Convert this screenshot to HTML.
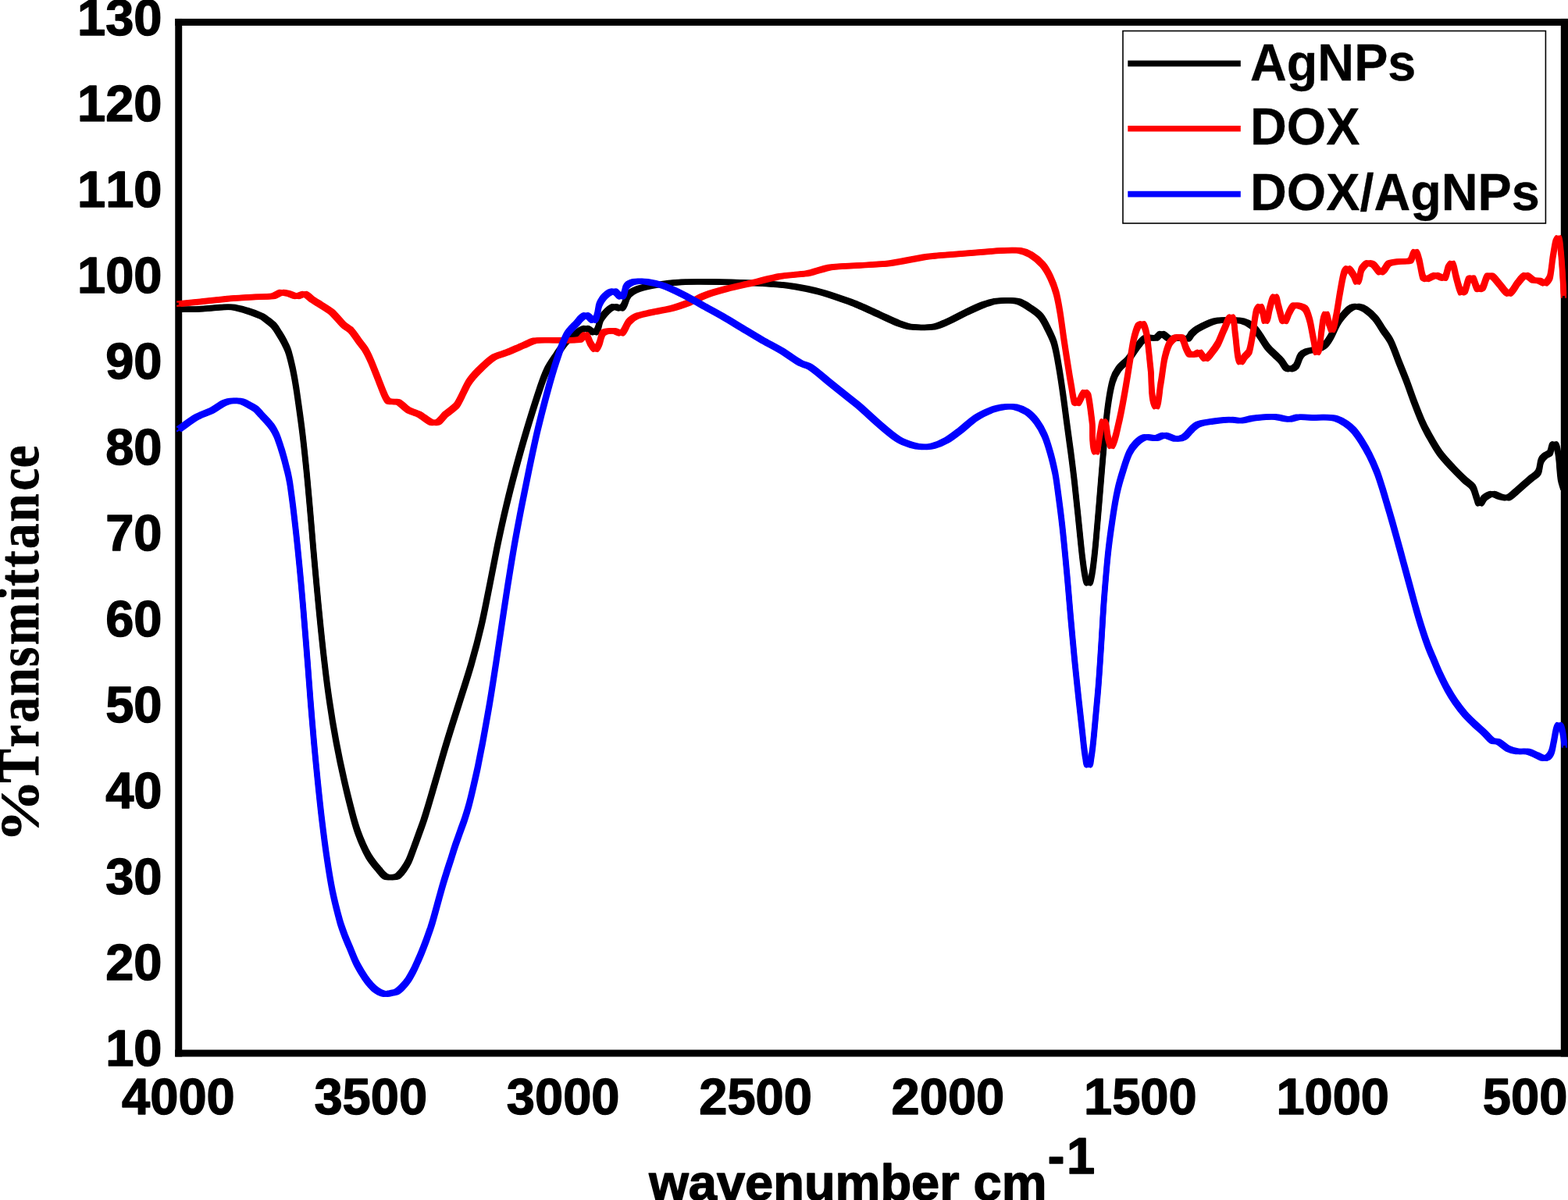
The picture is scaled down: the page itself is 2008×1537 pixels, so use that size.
<!DOCTYPE html>
<html lang="en">
<head>
<meta charset="utf-8">
<title>FTIR spectra: AgNPs, DOX, DOX/AgNPs</title>
<style>
html,body{margin:0;padding:0;background:#fff;}
body{width:2008px;height:1537px;overflow:hidden;}
svg{display:block;}
text{font-family:"Liberation Sans",Arial,Helvetica,sans-serif;font-weight:bold;fill:#000;stroke:#000;stroke-linejoin:round;font-kerning:none;}
.tick{font-size:65.0px;stroke-width:1.4px;}
.leg{font-size:64.8px;stroke-width:0.3px;}
.xt{font-size:65.0px;stroke-width:1.4px;}
.yt{font-family:"Liberation Serif","Times New Roman",Times,serif;font-size:65.0px;stroke-width:0.8px;}
.c{fill:none;stroke-linejoin:round;stroke-linecap:butt;}
</style>
</head>
<body>
<svg width="2008" height="1537" viewBox="0 0 2008 1537">
<rect x="0" y="0" width="2008" height="1537" fill="#fff"/>
<g fill="#000"><rect x="224.25" y="23.95" width="1783.75" height="8.95"/><rect x="224.25" y="1344.55" width="1783.75" height="8.95"/><rect x="224.25" y="23.95" width="8.95" height="1329.55"/><rect x="1998.8" y="23.95" width="11.2" height="1329.55"/></g>
<g class="tick" text-anchor="end">
<text x="207.5" y="44.56">130</text>
<text x="207.5" y="154.58">120</text>
<text x="207.5" y="264.60">110</text>
<text x="207.5" y="374.62">100</text>
<text x="207.5" y="484.64">90</text>
<text x="207.5" y="594.66">80</text>
<text x="207.5" y="704.68">70</text>
<text x="207.5" y="814.70">60</text>
<text x="207.5" y="924.72">50</text>
<text x="207.5" y="1034.74">40</text>
<text x="207.5" y="1144.76">30</text>
<text x="207.5" y="1254.78">20</text>
<text x="207.5" y="1364.80">10</text>
</g>
<g class="tick" text-anchor="middle">
<text x="228.40" y="1426.5">4000</text>
<text x="474.78" y="1426.5">3500</text>
<text x="721.16" y="1426.5">3000</text>
<text x="967.54" y="1426.5">2500</text>
<text x="1213.92" y="1426.5">2000</text>
<text x="1460.30" y="1426.5">1500</text>
<text x="1706.68" y="1426.5">1000</text>
<text x="1953.06" y="1426.5">500</text>
</g>
<text class="xt" x="831.2" y="1537.4">wavenumber cm</text>
<text class="xt" x="1341.8" y="1503.0">-<tspan dx="2.5">1</tspan></text>
<text class="yt" transform="translate(49.4,0) rotate(-90) scale(1,1.135)"><tspan x="-1078.9" font-size="62" textLength="80.6" lengthAdjust="spacingAndGlyphs">%</tspan><tspan x="-1002.4 -957.2 -925.6 -891.4 -854.0 -825.9 -768.9 -751.0 -726.9 -702.9 -668.5 -628.4 -599.2">Transmittance</tspan></text>
<g class="c" stroke="#000">
<path stroke-width="6.4" d="M228.8,396.2C238.3,396.1 247.9,396.2 257.5,395.8C270.0,395.2 282.5,392.9 295.0,393.2C301.8,393.5 308.5,395.6 315.0,397.5C321.8,399.5 328.5,402.1 335.0,405.0C337.1,405.9 338.9,407.5 340.7,408.9C344.2,411.6 347.9,414.1 350.9,417.4C353.6,420.4 355.5,424.1 357.7,427.5C359.8,430.8 361.8,434.2 363.6,437.7C365.3,441.0 367.1,444.3 368.4,447.8C369.8,451.4 370.7,455.1 371.7,458.8C372.8,463.0 373.7,467.3 374.7,471.5C375.6,475.7 376.4,480.0 377.2,484.2C378.1,489.5 379.0,494.7 379.8,500.0C382.2,516.7 384.6,533.3 386.7,550.0C388.8,566.6 390.5,583.3 392.2,600.0C393.9,616.7 395.3,633.3 396.8,650.0C398.3,666.7 399.6,683.3 401.0,700.0C402.5,716.7 403.9,733.3 405.5,750.0C407.0,766.7 408.6,783.3 410.3,800.0C412.0,816.7 413.7,833.4 415.7,850.0C417.6,866.7 419.7,883.4 422.2,900.0C424.6,916.7 427.4,933.4 430.5,950.0C433.6,966.7 437.1,983.4 440.9,1000.0C444.4,1015.7 448.4,1031.4 452.5,1047.0C454.3,1053.6 456.2,1060.1 458.5,1066.5C460.5,1072.2 462.8,1077.7 465.3,1083.2C467.3,1087.7 469.5,1092.2 472.0,1096.5C474.0,1099.9 476.4,1103.1 478.8,1106.2C481.0,1109.1 483.4,1111.8 485.8,1114.6C487.6,1116.8 489.3,1119.1 491.4,1121.0C492.6,1122.1 493.9,1123.1 495.5,1123.4C498.8,1124.0 502.2,1123.8 505.5,1123.4C507.1,1123.2 508.8,1122.7 510.0,1121.6C512.8,1119.2 515.1,1116.2 517.2,1113.2C519.5,1109.9 521.6,1106.4 523.4,1102.8C525.1,1099.4 526.3,1095.8 527.6,1092.3C529.3,1087.9 530.8,1083.4 532.5,1079.0C534.0,1074.8 535.5,1070.7 537.0,1066.5C538.6,1061.9 540.4,1057.3 542.0,1052.6C543.4,1048.4 544.8,1044.2 546.0,1040.0C550.1,1026.7 553.9,1013.3 557.8,1000.0C562.7,983.3 567.3,966.6 572.4,950.0C577.4,933.3 582.8,916.7 588.1,900.0C593.3,883.3 598.9,866.8 603.7,850.0C608.5,833.4 612.8,816.8 616.7,800.0C620.6,783.4 623.6,766.7 627.0,750.0C630.3,733.3 633.4,716.6 636.8,700.0C640.3,683.3 643.9,666.6 647.9,650.0C651.9,633.3 656.1,616.6 660.6,600.0C665.1,583.3 669.8,566.6 674.8,550.0C679.8,533.3 685.0,516.6 690.6,500.0C693.4,491.6 696.1,483.0 700.0,475.0C703.4,467.9 708.1,461.5 712.5,455.0C716.5,449.0 720.2,442.8 725.0,437.5C728.6,433.6 733.1,430.5 737.5,427.5C741.4,424.8 745.2,420.9 750.0,420.5C754.5,420.1 758.7,427.9 762.5,425.5C767.9,422.0 766.3,412.8 770.0,407.5C774.0,401.8 778.8,396.1 785.0,393.0C788.4,391.3 793.3,396.8 796.2,394.5C801.3,390.6 800.8,382.3 805.0,377.5C808.2,373.8 812.9,371.6 817.5,370.0C824.7,367.4 832.4,366.2 840.0,365.0C851.6,363.2 863.3,361.8 875.0,361.2C891.7,360.5 908.3,361.0 925.0,361.2C941.7,361.5 958.4,362.0 975.0,363.0C987.5,363.7 1000.1,364.5 1012.5,366.2C1025.1,368.1 1037.7,370.5 1050.0,373.8C1062.7,377.1 1075.1,381.9 1087.5,386.2C1091.7,387.7 1095.9,389.5 1100.0,391.2C1108.4,394.9 1116.7,398.8 1125.0,402.5C1133.3,406.2 1141.5,410.5 1150.0,413.8C1155.7,415.9 1161.5,418.1 1167.5,418.8C1176.6,419.8 1185.9,420.0 1195.0,418.8C1201.1,417.9 1206.8,415.0 1212.5,412.5C1221.0,408.7 1229.1,404.0 1237.5,400.0C1244.9,396.5 1252.3,392.9 1260.0,390.0C1264.9,388.2 1269.8,386.3 1275.0,385.8C1284.1,384.8 1293.5,383.9 1302.5,385.8C1309.0,387.1 1314.4,391.4 1320.0,395.0C1324.5,397.9 1329.1,400.9 1332.5,405.0C1336.8,410.2 1339.5,416.5 1342.5,422.5C1345.3,428.2 1348.3,433.9 1350.0,440.0C1352.8,449.8 1354.3,460.0 1356.0,470.0C1358.0,481.6 1359.7,493.3 1361.3,505.0C1363.1,517.5 1364.6,530.0 1366.3,542.5C1367.9,555.0 1369.7,567.5 1371.4,580.0C1373.0,592.5 1374.6,605.0 1376.0,617.5C1378.0,635.0 1379.7,652.5 1381.5,670.0C1383.1,685.0 1384.4,700.0 1386.2,715.0C1387.3,723.4 1388.1,731.8 1390.0,740.0C1390.6,742.6 1391.1,747.0 1393.8,747.0C1396.4,747.0 1396.9,742.6 1397.5,740.0C1399.4,731.8 1400.3,723.4 1401.2,715.0C1402.8,701.7 1403.8,688.3 1405.0,675.0C1406.7,655.8 1408.2,636.7 1409.8,617.5C1411.2,600.8 1412.5,584.2 1414.0,567.5C1415.4,551.7 1416.6,535.8 1418.8,520.0C1420.3,509.1 1421.9,498.1 1425.0,487.5C1426.6,482.1 1429.2,477.0 1432.5,472.5C1436.0,467.7 1441.2,464.5 1445.0,460.0C1449.6,454.5 1453.0,448.0 1457.5,442.5C1460.5,438.9 1463.2,434.3 1467.5,432.5C1471.3,430.9 1476.0,434.0 1480.0,433.0C1483.0,432.2 1484.4,427.4 1487.5,427.5C1491.4,427.7 1493.7,432.9 1497.5,433.8C1501.6,434.7 1505.8,432.5 1510.0,432.5C1513.7,432.5 1517.5,434.9 1521.0,433.8C1523.5,433.0 1524.1,429.4 1526.0,427.5C1528.3,425.2 1530.6,422.8 1533.5,421.2C1540.7,417.3 1548.1,413.5 1556.0,411.2C1561.6,409.7 1567.7,410.0 1573.5,410.0C1579.3,410.0 1585.3,409.8 1591.0,411.2C1595.5,412.4 1599.9,414.5 1603.5,417.5C1607.6,420.9 1610.4,425.7 1613.5,430.0C1617.0,434.9 1619.7,440.3 1623.5,445.0C1626.4,448.7 1630.2,451.7 1633.5,455.0C1636.0,457.5 1638.7,459.8 1641.0,462.5C1643.3,465.2 1644.5,469.0 1647.2,471.2C1648.9,472.6 1651.4,472.9 1653.5,472.5C1655.9,472.0 1658.3,470.7 1659.8,468.8C1662.7,464.7 1663.0,459.1 1666.0,455.0C1667.8,452.6 1670.7,451.1 1673.5,450.0C1677.5,448.5 1682.0,448.8 1686.0,447.5C1689.5,446.3 1693.2,444.9 1696.0,442.5C1699.2,439.8 1701.4,436.1 1703.5,432.5C1707.3,426.1 1709.6,418.8 1713.5,412.5C1716.3,408.0 1719.9,403.9 1723.5,400.0C1725.7,397.6 1728.1,395.2 1731.0,393.8C1733.3,392.6 1736.0,392.1 1738.5,392.5C1742.0,393.0 1745.5,394.3 1748.5,396.2C1753.2,399.4 1757.4,403.2 1761.0,407.5C1764.9,412.1 1767.7,417.5 1771.0,422.5C1774.3,427.5 1778.3,432.1 1781.0,437.5C1785.0,445.5 1787.7,454.2 1791.0,462.5C1794.3,470.8 1797.8,479.1 1801.0,487.5C1804.5,496.6 1807.5,505.9 1811.0,515.0C1814.2,523.4 1817.4,531.8 1821.0,540.0C1823.2,545.1 1825.8,550.1 1828.5,555.0C1833.3,563.5 1837.8,572.1 1843.5,580.0C1848.7,587.2 1855.0,593.5 1861.0,600.0C1865.8,605.2 1870.9,610.1 1876.0,615.0C1879.2,618.1 1883.5,620.1 1886.0,623.8C1888.7,627.8 1889.1,633.0 1891.0,637.5C1892.1,640.1 1892.0,645.0 1894.8,645.0C1898.0,645.0 1898.4,639.5 1901.0,637.5C1904.0,635.2 1907.3,632.7 1911.0,632.5C1914.6,632.3 1917.5,635.4 1921.0,636.2C1924.3,637.1 1927.8,638.5 1931.0,637.5C1935.0,636.3 1937.8,632.6 1941.0,630.0C1944.4,627.2 1947.7,624.2 1951.0,621.2C1954.3,618.3 1957.7,615.4 1961.0,612.5C1963.9,610.0 1967.9,608.4 1969.8,605.0C1972.3,600.5 1971.5,594.8 1973.5,590.0C1974.5,587.5 1976.5,585.5 1978.5,583.8C1980.3,582.1 1983.3,581.9 1984.8,580.0C1987.2,576.7 1985.8,569.7 1989.8,568.8C1993.0,567.9 1994.1,574.2 1994.8,577.5C1997.1,589.0 1996.7,600.9 1998.5,612.5C1999.2,616.8 2000.8,620.8 2002.0,625.0"/>
<path stroke-width="2.2" transform="translate(-2.6,-2.6)" d="M228.8,396.2C238.3,396.1 247.9,396.2 257.5,395.8C270.0,395.2 282.5,392.9 295.0,393.2C301.8,393.5 308.5,395.6 315.0,397.5C321.8,399.5 328.5,402.1 335.0,405.0C337.1,405.9 338.9,407.5 340.7,408.9C344.2,411.6 347.9,414.1 350.9,417.4C353.6,420.4 355.5,424.1 357.7,427.5C359.8,430.8 361.8,434.2 363.6,437.7C365.3,441.0 367.1,444.3 368.4,447.8C369.8,451.4 370.7,455.1 371.7,458.8C372.8,463.0 373.7,467.3 374.7,471.5C375.6,475.7 376.4,480.0 377.2,484.2C378.1,489.5 379.0,494.7 379.8,500.0C382.2,516.7 384.6,533.3 386.7,550.0C388.8,566.6 390.5,583.3 392.2,600.0C393.9,616.7 395.3,633.3 396.8,650.0C398.3,666.7 399.6,683.3 401.0,700.0C402.5,716.7 403.9,733.3 405.5,750.0C407.0,766.7 408.6,783.3 410.3,800.0C412.0,816.7 413.7,833.4 415.7,850.0C417.6,866.7 419.7,883.4 422.2,900.0C424.6,916.7 427.4,933.4 430.5,950.0C433.6,966.7 437.1,983.4 440.9,1000.0C444.4,1015.7 448.4,1031.4 452.5,1047.0C454.3,1053.6 456.2,1060.1 458.5,1066.5C460.5,1072.2 462.8,1077.7 465.3,1083.2C467.3,1087.7 469.5,1092.2 472.0,1096.5C474.0,1099.9 476.4,1103.1 478.8,1106.2C481.0,1109.1 483.4,1111.8 485.8,1114.6C487.6,1116.8 489.3,1119.1 491.4,1121.0C492.6,1122.1 493.9,1123.1 495.5,1123.4C498.8,1124.0 502.2,1123.8 505.5,1123.4C507.1,1123.2 508.8,1122.7 510.0,1121.6C512.8,1119.2 515.1,1116.2 517.2,1113.2C519.5,1109.9 521.6,1106.4 523.4,1102.8C525.1,1099.4 526.3,1095.8 527.6,1092.3C529.3,1087.9 530.8,1083.4 532.5,1079.0C534.0,1074.8 535.5,1070.7 537.0,1066.5C538.6,1061.9 540.4,1057.3 542.0,1052.6C543.4,1048.4 544.8,1044.2 546.0,1040.0C550.1,1026.7 553.9,1013.3 557.8,1000.0C562.7,983.3 567.3,966.6 572.4,950.0C577.4,933.3 582.8,916.7 588.1,900.0C593.3,883.3 598.9,866.8 603.7,850.0C608.5,833.4 612.8,816.8 616.7,800.0C620.6,783.4 623.6,766.7 627.0,750.0C630.3,733.3 633.4,716.6 636.8,700.0C640.3,683.3 643.9,666.6 647.9,650.0C651.9,633.3 656.1,616.6 660.6,600.0C665.1,583.3 669.8,566.6 674.8,550.0C679.8,533.3 685.0,516.6 690.6,500.0C693.4,491.6 696.1,483.0 700.0,475.0C703.4,467.9 708.1,461.5 712.5,455.0C716.5,449.0 720.2,442.8 725.0,437.5C728.6,433.6 733.1,430.5 737.5,427.5C741.4,424.8 745.2,420.9 750.0,420.5C754.5,420.1 758.7,427.9 762.5,425.5C767.9,422.0 766.3,412.8 770.0,407.5C774.0,401.8 778.8,396.1 785.0,393.0C788.4,391.3 793.3,396.8 796.2,394.5C801.3,390.6 800.8,382.3 805.0,377.5C808.2,373.8 812.9,371.6 817.5,370.0C824.7,367.4 832.4,366.2 840.0,365.0C851.6,363.2 863.3,361.8 875.0,361.2C891.7,360.5 908.3,361.0 925.0,361.2C941.7,361.5 958.4,362.0 975.0,363.0C987.5,363.7 1000.1,364.5 1012.5,366.2C1025.1,368.1 1037.7,370.5 1050.0,373.8C1062.7,377.1 1075.1,381.9 1087.5,386.2C1091.7,387.7 1095.9,389.5 1100.0,391.2C1108.4,394.9 1116.7,398.8 1125.0,402.5C1133.3,406.2 1141.5,410.5 1150.0,413.8C1155.7,415.9 1161.5,418.1 1167.5,418.8C1176.6,419.8 1185.9,420.0 1195.0,418.8C1201.1,417.9 1206.8,415.0 1212.5,412.5C1221.0,408.7 1229.1,404.0 1237.5,400.0C1244.9,396.5 1252.3,392.9 1260.0,390.0C1264.9,388.2 1269.8,386.3 1275.0,385.8C1284.1,384.8 1293.5,383.9 1302.5,385.8C1309.0,387.1 1314.4,391.4 1320.0,395.0C1324.5,397.9 1329.1,400.9 1332.5,405.0C1336.8,410.2 1339.5,416.5 1342.5,422.5C1345.3,428.2 1348.3,433.9 1350.0,440.0C1352.8,449.8 1354.3,460.0 1356.0,470.0C1358.0,481.6 1359.7,493.3 1361.3,505.0C1363.1,517.5 1364.6,530.0 1366.3,542.5C1367.9,555.0 1369.7,567.5 1371.4,580.0C1373.0,592.5 1374.6,605.0 1376.0,617.5C1378.0,635.0 1379.7,652.5 1381.5,670.0C1383.1,685.0 1384.4,700.0 1386.2,715.0C1387.3,723.4 1388.1,731.8 1390.0,740.0C1390.6,742.6 1391.1,747.0 1393.8,747.0C1396.4,747.0 1396.9,742.6 1397.5,740.0C1399.4,731.8 1400.3,723.4 1401.2,715.0C1402.8,701.7 1403.8,688.3 1405.0,675.0C1406.7,655.8 1408.2,636.7 1409.8,617.5C1411.2,600.8 1412.5,584.2 1414.0,567.5C1415.4,551.7 1416.6,535.8 1418.8,520.0C1420.3,509.1 1421.9,498.1 1425.0,487.5C1426.6,482.1 1429.2,477.0 1432.5,472.5C1436.0,467.7 1441.2,464.5 1445.0,460.0C1449.6,454.5 1453.0,448.0 1457.5,442.5C1460.5,438.9 1463.2,434.3 1467.5,432.5C1471.3,430.9 1476.0,434.0 1480.0,433.0C1483.0,432.2 1484.4,427.4 1487.5,427.5C1491.4,427.7 1493.7,432.9 1497.5,433.8C1501.6,434.7 1505.8,432.5 1510.0,432.5C1513.7,432.5 1517.5,434.9 1521.0,433.8C1523.5,433.0 1524.1,429.4 1526.0,427.5C1528.3,425.2 1530.6,422.8 1533.5,421.2C1540.7,417.3 1548.1,413.5 1556.0,411.2C1561.6,409.7 1567.7,410.0 1573.5,410.0C1579.3,410.0 1585.3,409.8 1591.0,411.2C1595.5,412.4 1599.9,414.5 1603.5,417.5C1607.6,420.9 1610.4,425.7 1613.5,430.0C1617.0,434.9 1619.7,440.3 1623.5,445.0C1626.4,448.7 1630.2,451.7 1633.5,455.0C1636.0,457.5 1638.7,459.8 1641.0,462.5C1643.3,465.2 1644.5,469.0 1647.2,471.2C1648.9,472.6 1651.4,472.9 1653.5,472.5C1655.9,472.0 1658.3,470.7 1659.8,468.8C1662.7,464.7 1663.0,459.1 1666.0,455.0C1667.8,452.6 1670.7,451.1 1673.5,450.0C1677.5,448.5 1682.0,448.8 1686.0,447.5C1689.5,446.3 1693.2,444.9 1696.0,442.5C1699.2,439.8 1701.4,436.1 1703.5,432.5C1707.3,426.1 1709.6,418.8 1713.5,412.5C1716.3,408.0 1719.9,403.9 1723.5,400.0C1725.7,397.6 1728.1,395.2 1731.0,393.8C1733.3,392.6 1736.0,392.1 1738.5,392.5C1742.0,393.0 1745.5,394.3 1748.5,396.2C1753.2,399.4 1757.4,403.2 1761.0,407.5C1764.9,412.1 1767.7,417.5 1771.0,422.5C1774.3,427.5 1778.3,432.1 1781.0,437.5C1785.0,445.5 1787.7,454.2 1791.0,462.5C1794.3,470.8 1797.8,479.1 1801.0,487.5C1804.5,496.6 1807.5,505.9 1811.0,515.0C1814.2,523.4 1817.4,531.8 1821.0,540.0C1823.2,545.1 1825.8,550.1 1828.5,555.0C1833.3,563.5 1837.8,572.1 1843.5,580.0C1848.7,587.2 1855.0,593.5 1861.0,600.0C1865.8,605.2 1870.9,610.1 1876.0,615.0C1879.2,618.1 1883.5,620.1 1886.0,623.8C1888.7,627.8 1889.1,633.0 1891.0,637.5C1892.1,640.1 1892.0,645.0 1894.8,645.0C1898.0,645.0 1898.4,639.5 1901.0,637.5C1904.0,635.2 1907.3,632.7 1911.0,632.5C1914.6,632.3 1917.5,635.4 1921.0,636.2C1924.3,637.1 1927.8,638.5 1931.0,637.5C1935.0,636.3 1937.8,632.6 1941.0,630.0C1944.4,627.2 1947.7,624.2 1951.0,621.2C1954.3,618.3 1957.7,615.4 1961.0,612.5C1963.9,610.0 1967.9,608.4 1969.8,605.0C1972.3,600.5 1971.5,594.8 1973.5,590.0C1974.5,587.5 1976.5,585.5 1978.5,583.8C1980.3,582.1 1983.3,581.9 1984.8,580.0C1987.2,576.7 1985.8,569.7 1989.8,568.8C1993.0,567.9 1994.1,574.2 1994.8,577.5C1997.1,589.0 1996.7,600.9 1998.5,612.5C1999.2,616.8 2000.8,620.8 2002.0,625.0"/>
<path stroke-width="2.2" transform="translate(2.6,-2.6)" d="M228.8,396.2C238.3,396.1 247.9,396.2 257.5,395.8C270.0,395.2 282.5,392.9 295.0,393.2C301.8,393.5 308.5,395.6 315.0,397.5C321.8,399.5 328.5,402.1 335.0,405.0C337.1,405.9 338.9,407.5 340.7,408.9C344.2,411.6 347.9,414.1 350.9,417.4C353.6,420.4 355.5,424.1 357.7,427.5C359.8,430.8 361.8,434.2 363.6,437.7C365.3,441.0 367.1,444.3 368.4,447.8C369.8,451.4 370.7,455.1 371.7,458.8C372.8,463.0 373.7,467.3 374.7,471.5C375.6,475.7 376.4,480.0 377.2,484.2C378.1,489.5 379.0,494.7 379.8,500.0C382.2,516.7 384.6,533.3 386.7,550.0C388.8,566.6 390.5,583.3 392.2,600.0C393.9,616.7 395.3,633.3 396.8,650.0C398.3,666.7 399.6,683.3 401.0,700.0C402.5,716.7 403.9,733.3 405.5,750.0C407.0,766.7 408.6,783.3 410.3,800.0C412.0,816.7 413.7,833.4 415.7,850.0C417.6,866.7 419.7,883.4 422.2,900.0C424.6,916.7 427.4,933.4 430.5,950.0C433.6,966.7 437.1,983.4 440.9,1000.0C444.4,1015.7 448.4,1031.4 452.5,1047.0C454.3,1053.6 456.2,1060.1 458.5,1066.5C460.5,1072.2 462.8,1077.7 465.3,1083.2C467.3,1087.7 469.5,1092.2 472.0,1096.5C474.0,1099.9 476.4,1103.1 478.8,1106.2C481.0,1109.1 483.4,1111.8 485.8,1114.6C487.6,1116.8 489.3,1119.1 491.4,1121.0C492.6,1122.1 493.9,1123.1 495.5,1123.4C498.8,1124.0 502.2,1123.8 505.5,1123.4C507.1,1123.2 508.8,1122.7 510.0,1121.6C512.8,1119.2 515.1,1116.2 517.2,1113.2C519.5,1109.9 521.6,1106.4 523.4,1102.8C525.1,1099.4 526.3,1095.8 527.6,1092.3C529.3,1087.9 530.8,1083.4 532.5,1079.0C534.0,1074.8 535.5,1070.7 537.0,1066.5C538.6,1061.9 540.4,1057.3 542.0,1052.6C543.4,1048.4 544.8,1044.2 546.0,1040.0C550.1,1026.7 553.9,1013.3 557.8,1000.0C562.7,983.3 567.3,966.6 572.4,950.0C577.4,933.3 582.8,916.7 588.1,900.0C593.3,883.3 598.9,866.8 603.7,850.0C608.5,833.4 612.8,816.8 616.7,800.0C620.6,783.4 623.6,766.7 627.0,750.0C630.3,733.3 633.4,716.6 636.8,700.0C640.3,683.3 643.9,666.6 647.9,650.0C651.9,633.3 656.1,616.6 660.6,600.0C665.1,583.3 669.8,566.6 674.8,550.0C679.8,533.3 685.0,516.6 690.6,500.0C693.4,491.6 696.1,483.0 700.0,475.0C703.4,467.9 708.1,461.5 712.5,455.0C716.5,449.0 720.2,442.8 725.0,437.5C728.6,433.6 733.1,430.5 737.5,427.5C741.4,424.8 745.2,420.9 750.0,420.5C754.5,420.1 758.7,427.9 762.5,425.5C767.9,422.0 766.3,412.8 770.0,407.5C774.0,401.8 778.8,396.1 785.0,393.0C788.4,391.3 793.3,396.8 796.2,394.5C801.3,390.6 800.8,382.3 805.0,377.5C808.2,373.8 812.9,371.6 817.5,370.0C824.7,367.4 832.4,366.2 840.0,365.0C851.6,363.2 863.3,361.8 875.0,361.2C891.7,360.5 908.3,361.0 925.0,361.2C941.7,361.5 958.4,362.0 975.0,363.0C987.5,363.7 1000.1,364.5 1012.5,366.2C1025.1,368.1 1037.7,370.5 1050.0,373.8C1062.7,377.1 1075.1,381.9 1087.5,386.2C1091.7,387.7 1095.9,389.5 1100.0,391.2C1108.4,394.9 1116.7,398.8 1125.0,402.5C1133.3,406.2 1141.5,410.5 1150.0,413.8C1155.7,415.9 1161.5,418.1 1167.5,418.8C1176.6,419.8 1185.9,420.0 1195.0,418.8C1201.1,417.9 1206.8,415.0 1212.5,412.5C1221.0,408.7 1229.1,404.0 1237.5,400.0C1244.9,396.5 1252.3,392.9 1260.0,390.0C1264.9,388.2 1269.8,386.3 1275.0,385.8C1284.1,384.8 1293.5,383.9 1302.5,385.8C1309.0,387.1 1314.4,391.4 1320.0,395.0C1324.5,397.9 1329.1,400.9 1332.5,405.0C1336.8,410.2 1339.5,416.5 1342.5,422.5C1345.3,428.2 1348.3,433.9 1350.0,440.0C1352.8,449.8 1354.3,460.0 1356.0,470.0C1358.0,481.6 1359.7,493.3 1361.3,505.0C1363.1,517.5 1364.6,530.0 1366.3,542.5C1367.9,555.0 1369.7,567.5 1371.4,580.0C1373.0,592.5 1374.6,605.0 1376.0,617.5C1378.0,635.0 1379.7,652.5 1381.5,670.0C1383.1,685.0 1384.4,700.0 1386.2,715.0C1387.3,723.4 1388.1,731.8 1390.0,740.0C1390.6,742.6 1391.1,747.0 1393.8,747.0C1396.4,747.0 1396.9,742.6 1397.5,740.0C1399.4,731.8 1400.3,723.4 1401.2,715.0C1402.8,701.7 1403.8,688.3 1405.0,675.0C1406.7,655.8 1408.2,636.7 1409.8,617.5C1411.2,600.8 1412.5,584.2 1414.0,567.5C1415.4,551.7 1416.6,535.8 1418.8,520.0C1420.3,509.1 1421.9,498.1 1425.0,487.5C1426.6,482.1 1429.2,477.0 1432.5,472.5C1436.0,467.7 1441.2,464.5 1445.0,460.0C1449.6,454.5 1453.0,448.0 1457.5,442.5C1460.5,438.9 1463.2,434.3 1467.5,432.5C1471.3,430.9 1476.0,434.0 1480.0,433.0C1483.0,432.2 1484.4,427.4 1487.5,427.5C1491.4,427.7 1493.7,432.9 1497.5,433.8C1501.6,434.7 1505.8,432.5 1510.0,432.5C1513.7,432.5 1517.5,434.9 1521.0,433.8C1523.5,433.0 1524.1,429.4 1526.0,427.5C1528.3,425.2 1530.6,422.8 1533.5,421.2C1540.7,417.3 1548.1,413.5 1556.0,411.2C1561.6,409.7 1567.7,410.0 1573.5,410.0C1579.3,410.0 1585.3,409.8 1591.0,411.2C1595.5,412.4 1599.9,414.5 1603.5,417.5C1607.6,420.9 1610.4,425.7 1613.5,430.0C1617.0,434.9 1619.7,440.3 1623.5,445.0C1626.4,448.7 1630.2,451.7 1633.5,455.0C1636.0,457.5 1638.7,459.8 1641.0,462.5C1643.3,465.2 1644.5,469.0 1647.2,471.2C1648.9,472.6 1651.4,472.9 1653.5,472.5C1655.9,472.0 1658.3,470.7 1659.8,468.8C1662.7,464.7 1663.0,459.1 1666.0,455.0C1667.8,452.6 1670.7,451.1 1673.5,450.0C1677.5,448.5 1682.0,448.8 1686.0,447.5C1689.5,446.3 1693.2,444.9 1696.0,442.5C1699.2,439.8 1701.4,436.1 1703.5,432.5C1707.3,426.1 1709.6,418.8 1713.5,412.5C1716.3,408.0 1719.9,403.9 1723.5,400.0C1725.7,397.6 1728.1,395.2 1731.0,393.8C1733.3,392.6 1736.0,392.1 1738.5,392.5C1742.0,393.0 1745.5,394.3 1748.5,396.2C1753.2,399.4 1757.4,403.2 1761.0,407.5C1764.9,412.1 1767.7,417.5 1771.0,422.5C1774.3,427.5 1778.3,432.1 1781.0,437.5C1785.0,445.5 1787.7,454.2 1791.0,462.5C1794.3,470.8 1797.8,479.1 1801.0,487.5C1804.5,496.6 1807.5,505.9 1811.0,515.0C1814.2,523.4 1817.4,531.8 1821.0,540.0C1823.2,545.1 1825.8,550.1 1828.5,555.0C1833.3,563.5 1837.8,572.1 1843.5,580.0C1848.7,587.2 1855.0,593.5 1861.0,600.0C1865.8,605.2 1870.9,610.1 1876.0,615.0C1879.2,618.1 1883.5,620.1 1886.0,623.8C1888.7,627.8 1889.1,633.0 1891.0,637.5C1892.1,640.1 1892.0,645.0 1894.8,645.0C1898.0,645.0 1898.4,639.5 1901.0,637.5C1904.0,635.2 1907.3,632.7 1911.0,632.5C1914.6,632.3 1917.5,635.4 1921.0,636.2C1924.3,637.1 1927.8,638.5 1931.0,637.5C1935.0,636.3 1937.8,632.6 1941.0,630.0C1944.4,627.2 1947.7,624.2 1951.0,621.2C1954.3,618.3 1957.7,615.4 1961.0,612.5C1963.9,610.0 1967.9,608.4 1969.8,605.0C1972.3,600.5 1971.5,594.8 1973.5,590.0C1974.5,587.5 1976.5,585.5 1978.5,583.8C1980.3,582.1 1983.3,581.9 1984.8,580.0C1987.2,576.7 1985.8,569.7 1989.8,568.8C1993.0,567.9 1994.1,574.2 1994.8,577.5C1997.1,589.0 1996.7,600.9 1998.5,612.5C1999.2,616.8 2000.8,620.8 2002.0,625.0"/>
<path stroke-width="2.2" transform="translate(-2.6,2.6)" d="M228.8,396.2C238.3,396.1 247.9,396.2 257.5,395.8C270.0,395.2 282.5,392.9 295.0,393.2C301.8,393.5 308.5,395.6 315.0,397.5C321.8,399.5 328.5,402.1 335.0,405.0C337.1,405.9 338.9,407.5 340.7,408.9C344.2,411.6 347.9,414.1 350.9,417.4C353.6,420.4 355.5,424.1 357.7,427.5C359.8,430.8 361.8,434.2 363.6,437.7C365.3,441.0 367.1,444.3 368.4,447.8C369.8,451.4 370.7,455.1 371.7,458.8C372.8,463.0 373.7,467.3 374.7,471.5C375.6,475.7 376.4,480.0 377.2,484.2C378.1,489.5 379.0,494.7 379.8,500.0C382.2,516.7 384.6,533.3 386.7,550.0C388.8,566.6 390.5,583.3 392.2,600.0C393.9,616.7 395.3,633.3 396.8,650.0C398.3,666.7 399.6,683.3 401.0,700.0C402.5,716.7 403.9,733.3 405.5,750.0C407.0,766.7 408.6,783.3 410.3,800.0C412.0,816.7 413.7,833.4 415.7,850.0C417.6,866.7 419.7,883.4 422.2,900.0C424.6,916.7 427.4,933.4 430.5,950.0C433.6,966.7 437.1,983.4 440.9,1000.0C444.4,1015.7 448.4,1031.4 452.5,1047.0C454.3,1053.6 456.2,1060.1 458.5,1066.5C460.5,1072.2 462.8,1077.7 465.3,1083.2C467.3,1087.7 469.5,1092.2 472.0,1096.5C474.0,1099.9 476.4,1103.1 478.8,1106.2C481.0,1109.1 483.4,1111.8 485.8,1114.6C487.6,1116.8 489.3,1119.1 491.4,1121.0C492.6,1122.1 493.9,1123.1 495.5,1123.4C498.8,1124.0 502.2,1123.8 505.5,1123.4C507.1,1123.2 508.8,1122.7 510.0,1121.6C512.8,1119.2 515.1,1116.2 517.2,1113.2C519.5,1109.9 521.6,1106.4 523.4,1102.8C525.1,1099.4 526.3,1095.8 527.6,1092.3C529.3,1087.9 530.8,1083.4 532.5,1079.0C534.0,1074.8 535.5,1070.7 537.0,1066.5C538.6,1061.9 540.4,1057.3 542.0,1052.6C543.4,1048.4 544.8,1044.2 546.0,1040.0C550.1,1026.7 553.9,1013.3 557.8,1000.0C562.7,983.3 567.3,966.6 572.4,950.0C577.4,933.3 582.8,916.7 588.1,900.0C593.3,883.3 598.9,866.8 603.7,850.0C608.5,833.4 612.8,816.8 616.7,800.0C620.6,783.4 623.6,766.7 627.0,750.0C630.3,733.3 633.4,716.6 636.8,700.0C640.3,683.3 643.9,666.6 647.9,650.0C651.9,633.3 656.1,616.6 660.6,600.0C665.1,583.3 669.8,566.6 674.8,550.0C679.8,533.3 685.0,516.6 690.6,500.0C693.4,491.6 696.1,483.0 700.0,475.0C703.4,467.9 708.1,461.5 712.5,455.0C716.5,449.0 720.2,442.8 725.0,437.5C728.6,433.6 733.1,430.5 737.5,427.5C741.4,424.8 745.2,420.9 750.0,420.5C754.5,420.1 758.7,427.9 762.5,425.5C767.9,422.0 766.3,412.8 770.0,407.5C774.0,401.8 778.8,396.1 785.0,393.0C788.4,391.3 793.3,396.8 796.2,394.5C801.3,390.6 800.8,382.3 805.0,377.5C808.2,373.8 812.9,371.6 817.5,370.0C824.7,367.4 832.4,366.2 840.0,365.0C851.6,363.2 863.3,361.8 875.0,361.2C891.7,360.5 908.3,361.0 925.0,361.2C941.7,361.5 958.4,362.0 975.0,363.0C987.5,363.7 1000.1,364.5 1012.5,366.2C1025.1,368.1 1037.7,370.5 1050.0,373.8C1062.7,377.1 1075.1,381.9 1087.5,386.2C1091.7,387.7 1095.9,389.5 1100.0,391.2C1108.4,394.9 1116.7,398.8 1125.0,402.5C1133.3,406.2 1141.5,410.5 1150.0,413.8C1155.7,415.9 1161.5,418.1 1167.5,418.8C1176.6,419.8 1185.9,420.0 1195.0,418.8C1201.1,417.9 1206.8,415.0 1212.5,412.5C1221.0,408.7 1229.1,404.0 1237.5,400.0C1244.9,396.5 1252.3,392.9 1260.0,390.0C1264.9,388.2 1269.8,386.3 1275.0,385.8C1284.1,384.8 1293.5,383.9 1302.5,385.8C1309.0,387.1 1314.4,391.4 1320.0,395.0C1324.5,397.9 1329.1,400.9 1332.5,405.0C1336.8,410.2 1339.5,416.5 1342.5,422.5C1345.3,428.2 1348.3,433.9 1350.0,440.0C1352.8,449.8 1354.3,460.0 1356.0,470.0C1358.0,481.6 1359.7,493.3 1361.3,505.0C1363.1,517.5 1364.6,530.0 1366.3,542.5C1367.9,555.0 1369.7,567.5 1371.4,580.0C1373.0,592.5 1374.6,605.0 1376.0,617.5C1378.0,635.0 1379.7,652.5 1381.5,670.0C1383.1,685.0 1384.4,700.0 1386.2,715.0C1387.3,723.4 1388.1,731.8 1390.0,740.0C1390.6,742.6 1391.1,747.0 1393.8,747.0C1396.4,747.0 1396.9,742.6 1397.5,740.0C1399.4,731.8 1400.3,723.4 1401.2,715.0C1402.8,701.7 1403.8,688.3 1405.0,675.0C1406.7,655.8 1408.2,636.7 1409.8,617.5C1411.2,600.8 1412.5,584.2 1414.0,567.5C1415.4,551.7 1416.6,535.8 1418.8,520.0C1420.3,509.1 1421.9,498.1 1425.0,487.5C1426.6,482.1 1429.2,477.0 1432.5,472.5C1436.0,467.7 1441.2,464.5 1445.0,460.0C1449.6,454.5 1453.0,448.0 1457.5,442.5C1460.5,438.9 1463.2,434.3 1467.5,432.5C1471.3,430.9 1476.0,434.0 1480.0,433.0C1483.0,432.2 1484.4,427.4 1487.5,427.5C1491.4,427.7 1493.7,432.9 1497.5,433.8C1501.6,434.7 1505.8,432.5 1510.0,432.5C1513.7,432.5 1517.5,434.9 1521.0,433.8C1523.5,433.0 1524.1,429.4 1526.0,427.5C1528.3,425.2 1530.6,422.8 1533.5,421.2C1540.7,417.3 1548.1,413.5 1556.0,411.2C1561.6,409.7 1567.7,410.0 1573.5,410.0C1579.3,410.0 1585.3,409.8 1591.0,411.2C1595.5,412.4 1599.9,414.5 1603.5,417.5C1607.6,420.9 1610.4,425.7 1613.5,430.0C1617.0,434.9 1619.7,440.3 1623.5,445.0C1626.4,448.7 1630.2,451.7 1633.5,455.0C1636.0,457.5 1638.7,459.8 1641.0,462.5C1643.3,465.2 1644.5,469.0 1647.2,471.2C1648.9,472.6 1651.4,472.9 1653.5,472.5C1655.9,472.0 1658.3,470.7 1659.8,468.8C1662.7,464.7 1663.0,459.1 1666.0,455.0C1667.8,452.6 1670.7,451.1 1673.5,450.0C1677.5,448.5 1682.0,448.8 1686.0,447.5C1689.5,446.3 1693.2,444.9 1696.0,442.5C1699.2,439.8 1701.4,436.1 1703.5,432.5C1707.3,426.1 1709.6,418.8 1713.5,412.5C1716.3,408.0 1719.9,403.9 1723.5,400.0C1725.7,397.6 1728.1,395.2 1731.0,393.8C1733.3,392.6 1736.0,392.1 1738.5,392.5C1742.0,393.0 1745.5,394.3 1748.5,396.2C1753.2,399.4 1757.4,403.2 1761.0,407.5C1764.9,412.1 1767.7,417.5 1771.0,422.5C1774.3,427.5 1778.3,432.1 1781.0,437.5C1785.0,445.5 1787.7,454.2 1791.0,462.5C1794.3,470.8 1797.8,479.1 1801.0,487.5C1804.5,496.6 1807.5,505.9 1811.0,515.0C1814.2,523.4 1817.4,531.8 1821.0,540.0C1823.2,545.1 1825.8,550.1 1828.5,555.0C1833.3,563.5 1837.8,572.1 1843.5,580.0C1848.7,587.2 1855.0,593.5 1861.0,600.0C1865.8,605.2 1870.9,610.1 1876.0,615.0C1879.2,618.1 1883.5,620.1 1886.0,623.8C1888.7,627.8 1889.1,633.0 1891.0,637.5C1892.1,640.1 1892.0,645.0 1894.8,645.0C1898.0,645.0 1898.4,639.5 1901.0,637.5C1904.0,635.2 1907.3,632.7 1911.0,632.5C1914.6,632.3 1917.5,635.4 1921.0,636.2C1924.3,637.1 1927.8,638.5 1931.0,637.5C1935.0,636.3 1937.8,632.6 1941.0,630.0C1944.4,627.2 1947.7,624.2 1951.0,621.2C1954.3,618.3 1957.7,615.4 1961.0,612.5C1963.9,610.0 1967.9,608.4 1969.8,605.0C1972.3,600.5 1971.5,594.8 1973.5,590.0C1974.5,587.5 1976.5,585.5 1978.5,583.8C1980.3,582.1 1983.3,581.9 1984.8,580.0C1987.2,576.7 1985.8,569.7 1989.8,568.8C1993.0,567.9 1994.1,574.2 1994.8,577.5C1997.1,589.0 1996.7,600.9 1998.5,612.5C1999.2,616.8 2000.8,620.8 2002.0,625.0"/>
<path stroke-width="2.2" transform="translate(2.6,2.6)" d="M228.8,396.2C238.3,396.1 247.9,396.2 257.5,395.8C270.0,395.2 282.5,392.9 295.0,393.2C301.8,393.5 308.5,395.6 315.0,397.5C321.8,399.5 328.5,402.1 335.0,405.0C337.1,405.9 338.9,407.5 340.7,408.9C344.2,411.6 347.9,414.1 350.9,417.4C353.6,420.4 355.5,424.1 357.7,427.5C359.8,430.8 361.8,434.2 363.6,437.7C365.3,441.0 367.1,444.3 368.4,447.8C369.8,451.4 370.7,455.1 371.7,458.8C372.8,463.0 373.7,467.3 374.7,471.5C375.6,475.7 376.4,480.0 377.2,484.2C378.1,489.5 379.0,494.7 379.8,500.0C382.2,516.7 384.6,533.3 386.7,550.0C388.8,566.6 390.5,583.3 392.2,600.0C393.9,616.7 395.3,633.3 396.8,650.0C398.3,666.7 399.6,683.3 401.0,700.0C402.5,716.7 403.9,733.3 405.5,750.0C407.0,766.7 408.6,783.3 410.3,800.0C412.0,816.7 413.7,833.4 415.7,850.0C417.6,866.7 419.7,883.4 422.2,900.0C424.6,916.7 427.4,933.4 430.5,950.0C433.6,966.7 437.1,983.4 440.9,1000.0C444.4,1015.7 448.4,1031.4 452.5,1047.0C454.3,1053.6 456.2,1060.1 458.5,1066.5C460.5,1072.2 462.8,1077.7 465.3,1083.2C467.3,1087.7 469.5,1092.2 472.0,1096.5C474.0,1099.9 476.4,1103.1 478.8,1106.2C481.0,1109.1 483.4,1111.8 485.8,1114.6C487.6,1116.8 489.3,1119.1 491.4,1121.0C492.6,1122.1 493.9,1123.1 495.5,1123.4C498.8,1124.0 502.2,1123.8 505.5,1123.4C507.1,1123.2 508.8,1122.7 510.0,1121.6C512.8,1119.2 515.1,1116.2 517.2,1113.2C519.5,1109.9 521.6,1106.4 523.4,1102.8C525.1,1099.4 526.3,1095.8 527.6,1092.3C529.3,1087.9 530.8,1083.4 532.5,1079.0C534.0,1074.8 535.5,1070.7 537.0,1066.5C538.6,1061.9 540.4,1057.3 542.0,1052.6C543.4,1048.4 544.8,1044.2 546.0,1040.0C550.1,1026.7 553.9,1013.3 557.8,1000.0C562.7,983.3 567.3,966.6 572.4,950.0C577.4,933.3 582.8,916.7 588.1,900.0C593.3,883.3 598.9,866.8 603.7,850.0C608.5,833.4 612.8,816.8 616.7,800.0C620.6,783.4 623.6,766.7 627.0,750.0C630.3,733.3 633.4,716.6 636.8,700.0C640.3,683.3 643.9,666.6 647.9,650.0C651.9,633.3 656.1,616.6 660.6,600.0C665.1,583.3 669.8,566.6 674.8,550.0C679.8,533.3 685.0,516.6 690.6,500.0C693.4,491.6 696.1,483.0 700.0,475.0C703.4,467.9 708.1,461.5 712.5,455.0C716.5,449.0 720.2,442.8 725.0,437.5C728.6,433.6 733.1,430.5 737.5,427.5C741.4,424.8 745.2,420.9 750.0,420.5C754.5,420.1 758.7,427.9 762.5,425.5C767.9,422.0 766.3,412.8 770.0,407.5C774.0,401.8 778.8,396.1 785.0,393.0C788.4,391.3 793.3,396.8 796.2,394.5C801.3,390.6 800.8,382.3 805.0,377.5C808.2,373.8 812.9,371.6 817.5,370.0C824.7,367.4 832.4,366.2 840.0,365.0C851.6,363.2 863.3,361.8 875.0,361.2C891.7,360.5 908.3,361.0 925.0,361.2C941.7,361.5 958.4,362.0 975.0,363.0C987.5,363.7 1000.1,364.5 1012.5,366.2C1025.1,368.1 1037.7,370.5 1050.0,373.8C1062.7,377.1 1075.1,381.9 1087.5,386.2C1091.7,387.7 1095.9,389.5 1100.0,391.2C1108.4,394.9 1116.7,398.8 1125.0,402.5C1133.3,406.2 1141.5,410.5 1150.0,413.8C1155.7,415.9 1161.5,418.1 1167.5,418.8C1176.6,419.8 1185.9,420.0 1195.0,418.8C1201.1,417.9 1206.8,415.0 1212.5,412.5C1221.0,408.7 1229.1,404.0 1237.5,400.0C1244.9,396.5 1252.3,392.9 1260.0,390.0C1264.9,388.2 1269.8,386.3 1275.0,385.8C1284.1,384.8 1293.5,383.9 1302.5,385.8C1309.0,387.1 1314.4,391.4 1320.0,395.0C1324.5,397.9 1329.1,400.9 1332.5,405.0C1336.8,410.2 1339.5,416.5 1342.5,422.5C1345.3,428.2 1348.3,433.9 1350.0,440.0C1352.8,449.8 1354.3,460.0 1356.0,470.0C1358.0,481.6 1359.7,493.3 1361.3,505.0C1363.1,517.5 1364.6,530.0 1366.3,542.5C1367.9,555.0 1369.7,567.5 1371.4,580.0C1373.0,592.5 1374.6,605.0 1376.0,617.5C1378.0,635.0 1379.7,652.5 1381.5,670.0C1383.1,685.0 1384.4,700.0 1386.2,715.0C1387.3,723.4 1388.1,731.8 1390.0,740.0C1390.6,742.6 1391.1,747.0 1393.8,747.0C1396.4,747.0 1396.9,742.6 1397.5,740.0C1399.4,731.8 1400.3,723.4 1401.2,715.0C1402.8,701.7 1403.8,688.3 1405.0,675.0C1406.7,655.8 1408.2,636.7 1409.8,617.5C1411.2,600.8 1412.5,584.2 1414.0,567.5C1415.4,551.7 1416.6,535.8 1418.8,520.0C1420.3,509.1 1421.9,498.1 1425.0,487.5C1426.6,482.1 1429.2,477.0 1432.5,472.5C1436.0,467.7 1441.2,464.5 1445.0,460.0C1449.6,454.5 1453.0,448.0 1457.5,442.5C1460.5,438.9 1463.2,434.3 1467.5,432.5C1471.3,430.9 1476.0,434.0 1480.0,433.0C1483.0,432.2 1484.4,427.4 1487.5,427.5C1491.4,427.7 1493.7,432.9 1497.5,433.8C1501.6,434.7 1505.8,432.5 1510.0,432.5C1513.7,432.5 1517.5,434.9 1521.0,433.8C1523.5,433.0 1524.1,429.4 1526.0,427.5C1528.3,425.2 1530.6,422.8 1533.5,421.2C1540.7,417.3 1548.1,413.5 1556.0,411.2C1561.6,409.7 1567.7,410.0 1573.5,410.0C1579.3,410.0 1585.3,409.8 1591.0,411.2C1595.5,412.4 1599.9,414.5 1603.5,417.5C1607.6,420.9 1610.4,425.7 1613.5,430.0C1617.0,434.9 1619.7,440.3 1623.5,445.0C1626.4,448.7 1630.2,451.7 1633.5,455.0C1636.0,457.5 1638.7,459.8 1641.0,462.5C1643.3,465.2 1644.5,469.0 1647.2,471.2C1648.9,472.6 1651.4,472.9 1653.5,472.5C1655.9,472.0 1658.3,470.7 1659.8,468.8C1662.7,464.7 1663.0,459.1 1666.0,455.0C1667.8,452.6 1670.7,451.1 1673.5,450.0C1677.5,448.5 1682.0,448.8 1686.0,447.5C1689.5,446.3 1693.2,444.9 1696.0,442.5C1699.2,439.8 1701.4,436.1 1703.5,432.5C1707.3,426.1 1709.6,418.8 1713.5,412.5C1716.3,408.0 1719.9,403.9 1723.5,400.0C1725.7,397.6 1728.1,395.2 1731.0,393.8C1733.3,392.6 1736.0,392.1 1738.5,392.5C1742.0,393.0 1745.5,394.3 1748.5,396.2C1753.2,399.4 1757.4,403.2 1761.0,407.5C1764.9,412.1 1767.7,417.5 1771.0,422.5C1774.3,427.5 1778.3,432.1 1781.0,437.5C1785.0,445.5 1787.7,454.2 1791.0,462.5C1794.3,470.8 1797.8,479.1 1801.0,487.5C1804.5,496.6 1807.5,505.9 1811.0,515.0C1814.2,523.4 1817.4,531.8 1821.0,540.0C1823.2,545.1 1825.8,550.1 1828.5,555.0C1833.3,563.5 1837.8,572.1 1843.5,580.0C1848.7,587.2 1855.0,593.5 1861.0,600.0C1865.8,605.2 1870.9,610.1 1876.0,615.0C1879.2,618.1 1883.5,620.1 1886.0,623.8C1888.7,627.8 1889.1,633.0 1891.0,637.5C1892.1,640.1 1892.0,645.0 1894.8,645.0C1898.0,645.0 1898.4,639.5 1901.0,637.5C1904.0,635.2 1907.3,632.7 1911.0,632.5C1914.6,632.3 1917.5,635.4 1921.0,636.2C1924.3,637.1 1927.8,638.5 1931.0,637.5C1935.0,636.3 1937.8,632.6 1941.0,630.0C1944.4,627.2 1947.7,624.2 1951.0,621.2C1954.3,618.3 1957.7,615.4 1961.0,612.5C1963.9,610.0 1967.9,608.4 1969.8,605.0C1972.3,600.5 1971.5,594.8 1973.5,590.0C1974.5,587.5 1976.5,585.5 1978.5,583.8C1980.3,582.1 1983.3,581.9 1984.8,580.0C1987.2,576.7 1985.8,569.7 1989.8,568.8C1993.0,567.9 1994.1,574.2 1994.8,577.5C1997.1,589.0 1996.7,600.9 1998.5,612.5C1999.2,616.8 2000.8,620.8 2002.0,625.0"/>
</g>
<g class="c" stroke="#f00">
<path stroke-width="6.4" d="M228.8,389.2C236.8,388.4 254.5,386.6 262.5,385.8C271.4,384.8 291.1,382.7 300.0,382.0C307.1,381.4 322.9,380.6 330.0,380.2C334.8,380.0 345.3,380.1 350.0,379.2C352.6,378.8 357.4,374.9 360.0,374.5C362.4,374.1 367.7,375.7 370.0,376.2C372.4,376.9 377.5,379.5 380.0,379.5C382.5,379.5 387.6,376.0 390.0,376.5C392.9,377.1 397.6,382.1 400.0,383.8C402.3,385.3 407.6,388.5 410.0,390.0C413.6,392.3 421.8,397.2 425.0,400.0C429.0,403.5 436.2,412.6 440.0,416.2C442.2,418.3 448.0,421.6 450.0,423.8C452.8,426.7 457.6,434.2 460.0,437.5C461.8,439.9 466.0,444.9 467.5,447.5C469.6,450.9 473.4,458.8 475.0,462.5C477.6,468.4 482.6,481.5 485.0,487.5C486.8,492.0 490.4,501.9 492.5,506.2C493.4,508.2 495.6,512.8 497.5,513.8C500.2,515.1 507.3,513.8 510.0,515.0C513.5,516.6 519.2,523.1 522.5,525.0C525.8,527.0 534.1,529.4 537.5,531.2C541.3,533.3 548.5,539.7 552.5,541.2C554.4,542.0 559.4,541.5 561.2,540.5C563.9,539.0 567.8,533.3 570.0,531.2C573.4,528.1 582.3,522.5 585.0,518.8C589.5,512.5 595.9,496.5 600.0,490.0C602.5,486.1 609.2,478.3 612.5,475.0C617.0,470.5 627.2,460.9 632.5,457.5C636.2,455.1 645.9,452.9 650.0,451.2C654.8,449.3 665.2,444.5 670.0,442.5C673.6,441.0 681.2,436.8 685.0,436.2C693.3,435.1 711.7,435.9 720.0,435.8C725.4,435.6 737.3,436.2 742.5,435.0C744.8,434.5 747.8,428.0 750.0,428.8C752.9,429.8 754.6,437.5 756.2,440.0C757.5,441.9 760.2,447.5 762.5,447.5C764.6,447.5 766.6,441.9 767.5,440.0C769.0,436.8 769.9,428.5 772.5,426.2C775.0,424.1 782.9,423.7 786.2,423.8C788.7,423.8 794.1,428.0 796.2,426.8C799.7,424.7 802.4,415.5 805.0,412.5C806.9,410.2 812.3,406.1 815.0,405.0C819.5,403.1 830.2,401.1 835.0,400.0C840.9,398.7 854.1,396.5 860.0,395.0C865.5,393.6 877.2,389.5 882.5,387.5C888.0,385.4 899.5,379.5 905.0,377.5C910.8,375.4 924.0,371.6 930.0,370.0C937.7,368.0 954.8,364.3 962.5,362.5C971.4,360.4 991.0,355.3 1000.0,353.8C1008.3,352.3 1026.8,351.5 1035.0,350.0C1041.7,348.8 1055.8,343.5 1062.5,342.5C1071.3,341.1 1091.1,340.6 1100.0,340.0C1108.9,339.4 1128.6,338.6 1137.5,337.5C1149.5,336.0 1175.5,330.4 1187.5,328.8C1196.4,327.5 1216.1,326.2 1225.0,325.5C1233.9,324.8 1253.6,323.2 1262.5,322.5C1268.4,322.0 1281.5,321.0 1287.5,320.8C1291.7,320.6 1300.9,320.1 1305.0,320.8C1308.8,321.4 1316.7,324.3 1320.0,326.2C1324.0,328.6 1331.9,335.2 1335.0,338.8C1338.0,342.2 1343.0,350.9 1345.0,355.0C1347.2,359.6 1351.1,370.1 1352.5,375.0C1354.1,380.8 1356.5,394.0 1357.5,400.0C1358.9,408.3 1361.3,426.7 1362.5,435.0C1363.6,442.7 1366.3,459.8 1367.5,467.5C1368.6,474.7 1371.2,490.4 1372.5,497.5C1373.2,501.7 1374.3,511.1 1376.0,515.0C1376.4,516.0 1379.7,517.0 1380.5,516.2C1383.2,513.6 1385.6,504.6 1388.8,502.5C1390.2,501.6 1393.3,505.9 1393.8,507.5C1395.8,515.7 1397.7,534.1 1398.8,542.5C1399.8,551.1 1397.1,571.8 1402.5,578.5C1406.1,583.0 1407.1,560.6 1408.8,555.0C1409.8,551.4 1410.4,538.3 1413.8,540.0C1418.1,542.2 1417.3,555.3 1418.8,560.0C1419.6,562.8 1421.9,573.6 1423.8,571.2C1428.2,565.6 1430.8,549.4 1432.5,542.5C1434.7,533.7 1438.4,514.0 1440.0,505.0C1441.6,496.1 1444.8,476.4 1446.2,467.5C1447.4,460.4 1449.7,444.6 1451.2,437.5C1452.3,432.6 1455.1,421.9 1457.5,417.5C1458.3,416.1 1462.7,413.8 1463.8,415.0C1466.3,417.8 1468.1,426.3 1468.8,430.0C1470.5,440.6 1472.5,464.3 1473.8,475.0C1475.0,485.7 1473.2,511.2 1479.5,520.0C1483.4,525.5 1485.0,499.1 1486.2,492.5C1487.8,484.8 1489.6,467.7 1491.2,460.0C1492.3,455.1 1495.3,444.5 1497.5,440.0C1498.6,437.7 1502.7,433.6 1505.0,432.5C1506.8,431.6 1512.0,431.1 1513.5,432.5C1515.9,434.7 1517.1,442.1 1518.5,445.0C1519.5,447.2 1521.5,452.4 1523.5,453.8C1525.0,454.8 1529.2,454.1 1531.0,453.8C1532.3,453.5 1534.8,450.7 1536.0,451.2C1538.4,452.4 1540.9,459.3 1543.5,459.5C1545.9,459.7 1549.4,454.4 1551.0,452.5C1553.3,449.7 1558.0,443.2 1559.8,440.0C1562.2,435.4 1566.1,424.6 1568.5,420.0C1570.3,416.5 1573.4,404.6 1577.0,406.0C1581.3,407.7 1580.8,420.4 1581.5,425.0C1582.7,432.1 1583.7,447.9 1585.0,455.0C1585.4,457.2 1586.3,463.1 1588.5,463.8C1590.3,464.3 1592.3,459.0 1593.5,457.5C1595.0,455.7 1599.0,452.2 1599.8,450.0C1601.7,444.3 1603.7,431.0 1604.8,425.0C1605.8,419.1 1606.9,405.8 1608.5,400.0C1609.1,397.9 1611.4,392.5 1613.5,392.5C1615.5,392.5 1616.5,398.1 1617.2,400.0C1618.3,402.6 1618.5,412.7 1621.0,411.2C1624.5,409.2 1624.6,398.8 1626.0,395.0C1627.3,391.4 1628.5,380.8 1632.2,380.0C1635.4,379.3 1636.2,389.5 1637.2,392.5C1638.6,396.6 1640.4,406.1 1642.2,410.0C1642.6,410.9 1645.4,412.0 1646.0,411.2C1647.9,409.0 1649.6,402.6 1651.0,400.0C1652.3,397.8 1654.8,391.9 1657.2,391.2C1660.5,390.4 1668.5,392.7 1671.0,395.0C1673.8,397.6 1676.2,406.3 1677.2,410.0C1678.9,415.8 1680.8,429.1 1682.2,435.0C1683.2,438.9 1684.4,454.1 1687.2,451.2C1691.7,446.8 1691.0,431.2 1692.2,425.0C1693.4,419.6 1693.4,406.4 1697.2,402.5C1699.5,400.2 1701.0,412.1 1702.2,415.0C1703.1,416.8 1704.7,424.0 1706.0,422.5C1708.9,419.2 1710.1,409.2 1711.0,405.0C1712.5,397.9 1714.7,382.1 1716.0,375.0C1717.1,369.0 1719.1,355.8 1721.0,350.0C1721.6,348.2 1724.1,343.4 1726.0,343.8C1728.7,344.3 1731.9,350.3 1733.5,352.5C1734.9,354.4 1736.6,362.4 1738.5,361.0C1741.7,358.6 1741.7,348.5 1743.5,345.0C1744.7,342.7 1748.6,338.0 1751.0,337.0C1752.7,336.3 1757.0,337.7 1758.5,338.8C1761.1,340.6 1764.5,347.2 1767.2,348.8C1768.4,349.4 1771.3,347.2 1772.2,346.2C1774.1,344.4 1776.3,338.8 1778.5,337.5C1781.1,335.9 1788.0,335.4 1791.0,335.0C1794.6,334.5 1802.9,335.6 1806.0,333.8C1808.6,332.2 1809.2,322.8 1812.2,322.5C1814.9,322.2 1816.5,330.0 1817.2,332.5C1818.9,337.7 1820.2,349.9 1822.2,355.0C1822.7,356.2 1825.9,357.7 1827.2,357.5C1830.1,357.1 1835.6,352.7 1838.5,352.5C1841.3,352.3 1847.3,357.7 1849.8,356.2C1852.7,354.4 1853.1,345.6 1854.8,342.5C1855.5,341.0 1858.7,336.2 1859.8,337.5C1862.5,340.9 1863.5,350.9 1864.8,355.0C1866.2,359.7 1868.4,370.4 1871.0,374.5C1871.7,375.6 1875.3,373.6 1876.0,372.5C1877.9,369.3 1879.0,360.7 1881.0,357.5C1881.6,356.5 1885.2,355.3 1886.0,356.2C1888.4,358.9 1889.7,367.5 1892.2,370.0C1893.3,371.1 1897.6,370.0 1898.5,368.8C1900.9,365.7 1902.3,356.7 1904.8,353.8C1905.7,352.6 1909.8,352.9 1911.0,353.8C1913.9,355.8 1918.5,362.4 1921.0,365.0C1923.6,367.8 1928.5,376.7 1932.2,376.2C1936.5,375.8 1940.7,365.7 1943.5,362.5C1945.7,360.0 1950.2,353.1 1953.5,352.5C1956.3,352.0 1960.9,357.7 1963.5,358.8C1965.2,359.4 1969.3,359.0 1971.0,359.5C1972.9,360.0 1976.6,363.6 1978.5,363.0C1980.8,362.2 1984.0,357.3 1984.8,355.0C1986.5,349.2 1987.5,335.9 1988.5,330.0C1989.3,325.2 1990.9,314.6 1992.2,310.0C1992.7,308.6 1995.2,303.7 1996.0,305.0C1997.9,308.1 1998.2,316.4 1998.6,320.0C1999.5,328.1 2000.7,345.9 2001.2,354.0C2001.6,359.9 2002.2,373.0 2002.5,379.0"/>
<path stroke-width="2.2" transform="translate(-2.6,-2.6)" d="M228.8,389.2C236.8,388.4 254.5,386.6 262.5,385.8C271.4,384.8 291.1,382.7 300.0,382.0C307.1,381.4 322.9,380.6 330.0,380.2C334.8,380.0 345.3,380.1 350.0,379.2C352.6,378.8 357.4,374.9 360.0,374.5C362.4,374.1 367.7,375.7 370.0,376.2C372.4,376.9 377.5,379.5 380.0,379.5C382.5,379.5 387.6,376.0 390.0,376.5C392.9,377.1 397.6,382.1 400.0,383.8C402.3,385.3 407.6,388.5 410.0,390.0C413.6,392.3 421.8,397.2 425.0,400.0C429.0,403.5 436.2,412.6 440.0,416.2C442.2,418.3 448.0,421.6 450.0,423.8C452.8,426.7 457.6,434.2 460.0,437.5C461.8,439.9 466.0,444.9 467.5,447.5C469.6,450.9 473.4,458.8 475.0,462.5C477.6,468.4 482.6,481.5 485.0,487.5C486.8,492.0 490.4,501.9 492.5,506.2C493.4,508.2 495.6,512.8 497.5,513.8C500.2,515.1 507.3,513.8 510.0,515.0C513.5,516.6 519.2,523.1 522.5,525.0C525.8,527.0 534.1,529.4 537.5,531.2C541.3,533.3 548.5,539.7 552.5,541.2C554.4,542.0 559.4,541.5 561.2,540.5C563.9,539.0 567.8,533.3 570.0,531.2C573.4,528.1 582.3,522.5 585.0,518.8C589.5,512.5 595.9,496.5 600.0,490.0C602.5,486.1 609.2,478.3 612.5,475.0C617.0,470.5 627.2,460.9 632.5,457.5C636.2,455.1 645.9,452.9 650.0,451.2C654.8,449.3 665.2,444.5 670.0,442.5C673.6,441.0 681.2,436.8 685.0,436.2C693.3,435.1 711.7,435.9 720.0,435.8C725.4,435.6 737.3,436.2 742.5,435.0C744.8,434.5 747.8,428.0 750.0,428.8C752.9,429.8 754.6,437.5 756.2,440.0C757.5,441.9 760.2,447.5 762.5,447.5C764.6,447.5 766.6,441.9 767.5,440.0C769.0,436.8 769.9,428.5 772.5,426.2C775.0,424.1 782.9,423.7 786.2,423.8C788.7,423.8 794.1,428.0 796.2,426.8C799.7,424.7 802.4,415.5 805.0,412.5C806.9,410.2 812.3,406.1 815.0,405.0C819.5,403.1 830.2,401.1 835.0,400.0C840.9,398.7 854.1,396.5 860.0,395.0C865.5,393.6 877.2,389.5 882.5,387.5C888.0,385.4 899.5,379.5 905.0,377.5C910.8,375.4 924.0,371.6 930.0,370.0C937.7,368.0 954.8,364.3 962.5,362.5C971.4,360.4 991.0,355.3 1000.0,353.8C1008.3,352.3 1026.8,351.5 1035.0,350.0C1041.7,348.8 1055.8,343.5 1062.5,342.5C1071.3,341.1 1091.1,340.6 1100.0,340.0C1108.9,339.4 1128.6,338.6 1137.5,337.5C1149.5,336.0 1175.5,330.4 1187.5,328.8C1196.4,327.5 1216.1,326.2 1225.0,325.5C1233.9,324.8 1253.6,323.2 1262.5,322.5C1268.4,322.0 1281.5,321.0 1287.5,320.8C1291.7,320.6 1300.9,320.1 1305.0,320.8C1308.8,321.4 1316.7,324.3 1320.0,326.2C1324.0,328.6 1331.9,335.2 1335.0,338.8C1338.0,342.2 1343.0,350.9 1345.0,355.0C1347.2,359.6 1351.1,370.1 1352.5,375.0C1354.1,380.8 1356.5,394.0 1357.5,400.0C1358.9,408.3 1361.3,426.7 1362.5,435.0C1363.6,442.7 1366.3,459.8 1367.5,467.5C1368.6,474.7 1371.2,490.4 1372.5,497.5C1373.2,501.7 1374.3,511.1 1376.0,515.0C1376.4,516.0 1379.7,517.0 1380.5,516.2C1383.2,513.6 1385.6,504.6 1388.8,502.5C1390.2,501.6 1393.3,505.9 1393.8,507.5C1395.8,515.7 1397.7,534.1 1398.8,542.5C1399.8,551.1 1397.1,571.8 1402.5,578.5C1406.1,583.0 1407.1,560.6 1408.8,555.0C1409.8,551.4 1410.4,538.3 1413.8,540.0C1418.1,542.2 1417.3,555.3 1418.8,560.0C1419.6,562.8 1421.9,573.6 1423.8,571.2C1428.2,565.6 1430.8,549.4 1432.5,542.5C1434.7,533.7 1438.4,514.0 1440.0,505.0C1441.6,496.1 1444.8,476.4 1446.2,467.5C1447.4,460.4 1449.7,444.6 1451.2,437.5C1452.3,432.6 1455.1,421.9 1457.5,417.5C1458.3,416.1 1462.7,413.8 1463.8,415.0C1466.3,417.8 1468.1,426.3 1468.8,430.0C1470.5,440.6 1472.5,464.3 1473.8,475.0C1475.0,485.7 1473.2,511.2 1479.5,520.0C1483.4,525.5 1485.0,499.1 1486.2,492.5C1487.8,484.8 1489.6,467.7 1491.2,460.0C1492.3,455.1 1495.3,444.5 1497.5,440.0C1498.6,437.7 1502.7,433.6 1505.0,432.5C1506.8,431.6 1512.0,431.1 1513.5,432.5C1515.9,434.7 1517.1,442.1 1518.5,445.0C1519.5,447.2 1521.5,452.4 1523.5,453.8C1525.0,454.8 1529.2,454.1 1531.0,453.8C1532.3,453.5 1534.8,450.7 1536.0,451.2C1538.4,452.4 1540.9,459.3 1543.5,459.5C1545.9,459.7 1549.4,454.4 1551.0,452.5C1553.3,449.7 1558.0,443.2 1559.8,440.0C1562.2,435.4 1566.1,424.6 1568.5,420.0C1570.3,416.5 1573.4,404.6 1577.0,406.0C1581.3,407.7 1580.8,420.4 1581.5,425.0C1582.7,432.1 1583.7,447.9 1585.0,455.0C1585.4,457.2 1586.3,463.1 1588.5,463.8C1590.3,464.3 1592.3,459.0 1593.5,457.5C1595.0,455.7 1599.0,452.2 1599.8,450.0C1601.7,444.3 1603.7,431.0 1604.8,425.0C1605.8,419.1 1606.9,405.8 1608.5,400.0C1609.1,397.9 1611.4,392.5 1613.5,392.5C1615.5,392.5 1616.5,398.1 1617.2,400.0C1618.3,402.6 1618.5,412.7 1621.0,411.2C1624.5,409.2 1624.6,398.8 1626.0,395.0C1627.3,391.4 1628.5,380.8 1632.2,380.0C1635.4,379.3 1636.2,389.5 1637.2,392.5C1638.6,396.6 1640.4,406.1 1642.2,410.0C1642.6,410.9 1645.4,412.0 1646.0,411.2C1647.9,409.0 1649.6,402.6 1651.0,400.0C1652.3,397.8 1654.8,391.9 1657.2,391.2C1660.5,390.4 1668.5,392.7 1671.0,395.0C1673.8,397.6 1676.2,406.3 1677.2,410.0C1678.9,415.8 1680.8,429.1 1682.2,435.0C1683.2,438.9 1684.4,454.1 1687.2,451.2C1691.7,446.8 1691.0,431.2 1692.2,425.0C1693.4,419.6 1693.4,406.4 1697.2,402.5C1699.5,400.2 1701.0,412.1 1702.2,415.0C1703.1,416.8 1704.7,424.0 1706.0,422.5C1708.9,419.2 1710.1,409.2 1711.0,405.0C1712.5,397.9 1714.7,382.1 1716.0,375.0C1717.1,369.0 1719.1,355.8 1721.0,350.0C1721.6,348.2 1724.1,343.4 1726.0,343.8C1728.7,344.3 1731.9,350.3 1733.5,352.5C1734.9,354.4 1736.6,362.4 1738.5,361.0C1741.7,358.6 1741.7,348.5 1743.5,345.0C1744.7,342.7 1748.6,338.0 1751.0,337.0C1752.7,336.3 1757.0,337.7 1758.5,338.8C1761.1,340.6 1764.5,347.2 1767.2,348.8C1768.4,349.4 1771.3,347.2 1772.2,346.2C1774.1,344.4 1776.3,338.8 1778.5,337.5C1781.1,335.9 1788.0,335.4 1791.0,335.0C1794.6,334.5 1802.9,335.6 1806.0,333.8C1808.6,332.2 1809.2,322.8 1812.2,322.5C1814.9,322.2 1816.5,330.0 1817.2,332.5C1818.9,337.7 1820.2,349.9 1822.2,355.0C1822.7,356.2 1825.9,357.7 1827.2,357.5C1830.1,357.1 1835.6,352.7 1838.5,352.5C1841.3,352.3 1847.3,357.7 1849.8,356.2C1852.7,354.4 1853.1,345.6 1854.8,342.5C1855.5,341.0 1858.7,336.2 1859.8,337.5C1862.5,340.9 1863.5,350.9 1864.8,355.0C1866.2,359.7 1868.4,370.4 1871.0,374.5C1871.7,375.6 1875.3,373.6 1876.0,372.5C1877.9,369.3 1879.0,360.7 1881.0,357.5C1881.6,356.5 1885.2,355.3 1886.0,356.2C1888.4,358.9 1889.7,367.5 1892.2,370.0C1893.3,371.1 1897.6,370.0 1898.5,368.8C1900.9,365.7 1902.3,356.7 1904.8,353.8C1905.7,352.6 1909.8,352.9 1911.0,353.8C1913.9,355.8 1918.5,362.4 1921.0,365.0C1923.6,367.8 1928.5,376.7 1932.2,376.2C1936.5,375.8 1940.7,365.7 1943.5,362.5C1945.7,360.0 1950.2,353.1 1953.5,352.5C1956.3,352.0 1960.9,357.7 1963.5,358.8C1965.2,359.4 1969.3,359.0 1971.0,359.5C1972.9,360.0 1976.6,363.6 1978.5,363.0C1980.8,362.2 1984.0,357.3 1984.8,355.0C1986.5,349.2 1987.5,335.9 1988.5,330.0C1989.3,325.2 1990.9,314.6 1992.2,310.0C1992.7,308.6 1995.2,303.7 1996.0,305.0C1997.9,308.1 1998.2,316.4 1998.6,320.0C1999.5,328.1 2000.7,345.9 2001.2,354.0C2001.6,359.9 2002.2,373.0 2002.5,379.0"/>
<path stroke-width="2.2" transform="translate(2.6,-2.6)" d="M228.8,389.2C236.8,388.4 254.5,386.6 262.5,385.8C271.4,384.8 291.1,382.7 300.0,382.0C307.1,381.4 322.9,380.6 330.0,380.2C334.8,380.0 345.3,380.1 350.0,379.2C352.6,378.8 357.4,374.9 360.0,374.5C362.4,374.1 367.7,375.7 370.0,376.2C372.4,376.9 377.5,379.5 380.0,379.5C382.5,379.5 387.6,376.0 390.0,376.5C392.9,377.1 397.6,382.1 400.0,383.8C402.3,385.3 407.6,388.5 410.0,390.0C413.6,392.3 421.8,397.2 425.0,400.0C429.0,403.5 436.2,412.6 440.0,416.2C442.2,418.3 448.0,421.6 450.0,423.8C452.8,426.7 457.6,434.2 460.0,437.5C461.8,439.9 466.0,444.9 467.5,447.5C469.6,450.9 473.4,458.8 475.0,462.5C477.6,468.4 482.6,481.5 485.0,487.5C486.8,492.0 490.4,501.9 492.5,506.2C493.4,508.2 495.6,512.8 497.5,513.8C500.2,515.1 507.3,513.8 510.0,515.0C513.5,516.6 519.2,523.1 522.5,525.0C525.8,527.0 534.1,529.4 537.5,531.2C541.3,533.3 548.5,539.7 552.5,541.2C554.4,542.0 559.4,541.5 561.2,540.5C563.9,539.0 567.8,533.3 570.0,531.2C573.4,528.1 582.3,522.5 585.0,518.8C589.5,512.5 595.9,496.5 600.0,490.0C602.5,486.1 609.2,478.3 612.5,475.0C617.0,470.5 627.2,460.9 632.5,457.5C636.2,455.1 645.9,452.9 650.0,451.2C654.8,449.3 665.2,444.5 670.0,442.5C673.6,441.0 681.2,436.8 685.0,436.2C693.3,435.1 711.7,435.9 720.0,435.8C725.4,435.6 737.3,436.2 742.5,435.0C744.8,434.5 747.8,428.0 750.0,428.8C752.9,429.8 754.6,437.5 756.2,440.0C757.5,441.9 760.2,447.5 762.5,447.5C764.6,447.5 766.6,441.9 767.5,440.0C769.0,436.8 769.9,428.5 772.5,426.2C775.0,424.1 782.9,423.7 786.2,423.8C788.7,423.8 794.1,428.0 796.2,426.8C799.7,424.7 802.4,415.5 805.0,412.5C806.9,410.2 812.3,406.1 815.0,405.0C819.5,403.1 830.2,401.1 835.0,400.0C840.9,398.7 854.1,396.5 860.0,395.0C865.5,393.6 877.2,389.5 882.5,387.5C888.0,385.4 899.5,379.5 905.0,377.5C910.8,375.4 924.0,371.6 930.0,370.0C937.7,368.0 954.8,364.3 962.5,362.5C971.4,360.4 991.0,355.3 1000.0,353.8C1008.3,352.3 1026.8,351.5 1035.0,350.0C1041.7,348.8 1055.8,343.5 1062.5,342.5C1071.3,341.1 1091.1,340.6 1100.0,340.0C1108.9,339.4 1128.6,338.6 1137.5,337.5C1149.5,336.0 1175.5,330.4 1187.5,328.8C1196.4,327.5 1216.1,326.2 1225.0,325.5C1233.9,324.8 1253.6,323.2 1262.5,322.5C1268.4,322.0 1281.5,321.0 1287.5,320.8C1291.7,320.6 1300.9,320.1 1305.0,320.8C1308.8,321.4 1316.7,324.3 1320.0,326.2C1324.0,328.6 1331.9,335.2 1335.0,338.8C1338.0,342.2 1343.0,350.9 1345.0,355.0C1347.2,359.6 1351.1,370.1 1352.5,375.0C1354.1,380.8 1356.5,394.0 1357.5,400.0C1358.9,408.3 1361.3,426.7 1362.5,435.0C1363.6,442.7 1366.3,459.8 1367.5,467.5C1368.6,474.7 1371.2,490.4 1372.5,497.5C1373.2,501.7 1374.3,511.1 1376.0,515.0C1376.4,516.0 1379.7,517.0 1380.5,516.2C1383.2,513.6 1385.6,504.6 1388.8,502.5C1390.2,501.6 1393.3,505.9 1393.8,507.5C1395.8,515.7 1397.7,534.1 1398.8,542.5C1399.8,551.1 1397.1,571.8 1402.5,578.5C1406.1,583.0 1407.1,560.6 1408.8,555.0C1409.8,551.4 1410.4,538.3 1413.8,540.0C1418.1,542.2 1417.3,555.3 1418.8,560.0C1419.6,562.8 1421.9,573.6 1423.8,571.2C1428.2,565.6 1430.8,549.4 1432.5,542.5C1434.7,533.7 1438.4,514.0 1440.0,505.0C1441.6,496.1 1444.8,476.4 1446.2,467.5C1447.4,460.4 1449.7,444.6 1451.2,437.5C1452.3,432.6 1455.1,421.9 1457.5,417.5C1458.3,416.1 1462.7,413.8 1463.8,415.0C1466.3,417.8 1468.1,426.3 1468.8,430.0C1470.5,440.6 1472.5,464.3 1473.8,475.0C1475.0,485.7 1473.2,511.2 1479.5,520.0C1483.4,525.5 1485.0,499.1 1486.2,492.5C1487.8,484.8 1489.6,467.7 1491.2,460.0C1492.3,455.1 1495.3,444.5 1497.5,440.0C1498.6,437.7 1502.7,433.6 1505.0,432.5C1506.8,431.6 1512.0,431.1 1513.5,432.5C1515.9,434.7 1517.1,442.1 1518.5,445.0C1519.5,447.2 1521.5,452.4 1523.5,453.8C1525.0,454.8 1529.2,454.1 1531.0,453.8C1532.3,453.5 1534.8,450.7 1536.0,451.2C1538.4,452.4 1540.9,459.3 1543.5,459.5C1545.9,459.7 1549.4,454.4 1551.0,452.5C1553.3,449.7 1558.0,443.2 1559.8,440.0C1562.2,435.4 1566.1,424.6 1568.5,420.0C1570.3,416.5 1573.4,404.6 1577.0,406.0C1581.3,407.7 1580.8,420.4 1581.5,425.0C1582.7,432.1 1583.7,447.9 1585.0,455.0C1585.4,457.2 1586.3,463.1 1588.5,463.8C1590.3,464.3 1592.3,459.0 1593.5,457.5C1595.0,455.7 1599.0,452.2 1599.8,450.0C1601.7,444.3 1603.7,431.0 1604.8,425.0C1605.8,419.1 1606.9,405.8 1608.5,400.0C1609.1,397.9 1611.4,392.5 1613.5,392.5C1615.5,392.5 1616.5,398.1 1617.2,400.0C1618.3,402.6 1618.5,412.7 1621.0,411.2C1624.5,409.2 1624.6,398.8 1626.0,395.0C1627.3,391.4 1628.5,380.8 1632.2,380.0C1635.4,379.3 1636.2,389.5 1637.2,392.5C1638.6,396.6 1640.4,406.1 1642.2,410.0C1642.6,410.9 1645.4,412.0 1646.0,411.2C1647.9,409.0 1649.6,402.6 1651.0,400.0C1652.3,397.8 1654.8,391.9 1657.2,391.2C1660.5,390.4 1668.5,392.7 1671.0,395.0C1673.8,397.6 1676.2,406.3 1677.2,410.0C1678.9,415.8 1680.8,429.1 1682.2,435.0C1683.2,438.9 1684.4,454.1 1687.2,451.2C1691.7,446.8 1691.0,431.2 1692.2,425.0C1693.4,419.6 1693.4,406.4 1697.2,402.5C1699.5,400.2 1701.0,412.1 1702.2,415.0C1703.1,416.8 1704.7,424.0 1706.0,422.5C1708.9,419.2 1710.1,409.2 1711.0,405.0C1712.5,397.9 1714.7,382.1 1716.0,375.0C1717.1,369.0 1719.1,355.8 1721.0,350.0C1721.6,348.2 1724.1,343.4 1726.0,343.8C1728.7,344.3 1731.9,350.3 1733.5,352.5C1734.9,354.4 1736.6,362.4 1738.5,361.0C1741.7,358.6 1741.7,348.5 1743.5,345.0C1744.7,342.7 1748.6,338.0 1751.0,337.0C1752.7,336.3 1757.0,337.7 1758.5,338.8C1761.1,340.6 1764.5,347.2 1767.2,348.8C1768.4,349.4 1771.3,347.2 1772.2,346.2C1774.1,344.4 1776.3,338.8 1778.5,337.5C1781.1,335.9 1788.0,335.4 1791.0,335.0C1794.6,334.5 1802.9,335.6 1806.0,333.8C1808.6,332.2 1809.2,322.8 1812.2,322.5C1814.9,322.2 1816.5,330.0 1817.2,332.5C1818.9,337.7 1820.2,349.9 1822.2,355.0C1822.7,356.2 1825.9,357.7 1827.2,357.5C1830.1,357.1 1835.6,352.7 1838.5,352.5C1841.3,352.3 1847.3,357.7 1849.8,356.2C1852.7,354.4 1853.1,345.6 1854.8,342.5C1855.5,341.0 1858.7,336.2 1859.8,337.5C1862.5,340.9 1863.5,350.9 1864.8,355.0C1866.2,359.7 1868.4,370.4 1871.0,374.5C1871.7,375.6 1875.3,373.6 1876.0,372.5C1877.9,369.3 1879.0,360.7 1881.0,357.5C1881.6,356.5 1885.2,355.3 1886.0,356.2C1888.4,358.9 1889.7,367.5 1892.2,370.0C1893.3,371.1 1897.6,370.0 1898.5,368.8C1900.9,365.7 1902.3,356.7 1904.8,353.8C1905.7,352.6 1909.8,352.9 1911.0,353.8C1913.9,355.8 1918.5,362.4 1921.0,365.0C1923.6,367.8 1928.5,376.7 1932.2,376.2C1936.5,375.8 1940.7,365.7 1943.5,362.5C1945.7,360.0 1950.2,353.1 1953.5,352.5C1956.3,352.0 1960.9,357.7 1963.5,358.8C1965.2,359.4 1969.3,359.0 1971.0,359.5C1972.9,360.0 1976.6,363.6 1978.5,363.0C1980.8,362.2 1984.0,357.3 1984.8,355.0C1986.5,349.2 1987.5,335.9 1988.5,330.0C1989.3,325.2 1990.9,314.6 1992.2,310.0C1992.7,308.6 1995.2,303.7 1996.0,305.0C1997.9,308.1 1998.2,316.4 1998.6,320.0C1999.5,328.1 2000.7,345.9 2001.2,354.0C2001.6,359.9 2002.2,373.0 2002.5,379.0"/>
<path stroke-width="2.2" transform="translate(-2.6,2.6)" d="M228.8,389.2C236.8,388.4 254.5,386.6 262.5,385.8C271.4,384.8 291.1,382.7 300.0,382.0C307.1,381.4 322.9,380.6 330.0,380.2C334.8,380.0 345.3,380.1 350.0,379.2C352.6,378.8 357.4,374.9 360.0,374.5C362.4,374.1 367.7,375.7 370.0,376.2C372.4,376.9 377.5,379.5 380.0,379.5C382.5,379.5 387.6,376.0 390.0,376.5C392.9,377.1 397.6,382.1 400.0,383.8C402.3,385.3 407.6,388.5 410.0,390.0C413.6,392.3 421.8,397.2 425.0,400.0C429.0,403.5 436.2,412.6 440.0,416.2C442.2,418.3 448.0,421.6 450.0,423.8C452.8,426.7 457.6,434.2 460.0,437.5C461.8,439.9 466.0,444.9 467.5,447.5C469.6,450.9 473.4,458.8 475.0,462.5C477.6,468.4 482.6,481.5 485.0,487.5C486.8,492.0 490.4,501.9 492.5,506.2C493.4,508.2 495.6,512.8 497.5,513.8C500.2,515.1 507.3,513.8 510.0,515.0C513.5,516.6 519.2,523.1 522.5,525.0C525.8,527.0 534.1,529.4 537.5,531.2C541.3,533.3 548.5,539.7 552.5,541.2C554.4,542.0 559.4,541.5 561.2,540.5C563.9,539.0 567.8,533.3 570.0,531.2C573.4,528.1 582.3,522.5 585.0,518.8C589.5,512.5 595.9,496.5 600.0,490.0C602.5,486.1 609.2,478.3 612.5,475.0C617.0,470.5 627.2,460.9 632.5,457.5C636.2,455.1 645.9,452.9 650.0,451.2C654.8,449.3 665.2,444.5 670.0,442.5C673.6,441.0 681.2,436.8 685.0,436.2C693.3,435.1 711.7,435.9 720.0,435.8C725.4,435.6 737.3,436.2 742.5,435.0C744.8,434.5 747.8,428.0 750.0,428.8C752.9,429.8 754.6,437.5 756.2,440.0C757.5,441.9 760.2,447.5 762.5,447.5C764.6,447.5 766.6,441.9 767.5,440.0C769.0,436.8 769.9,428.5 772.5,426.2C775.0,424.1 782.9,423.7 786.2,423.8C788.7,423.8 794.1,428.0 796.2,426.8C799.7,424.7 802.4,415.5 805.0,412.5C806.9,410.2 812.3,406.1 815.0,405.0C819.5,403.1 830.2,401.1 835.0,400.0C840.9,398.7 854.1,396.5 860.0,395.0C865.5,393.6 877.2,389.5 882.5,387.5C888.0,385.4 899.5,379.5 905.0,377.5C910.8,375.4 924.0,371.6 930.0,370.0C937.7,368.0 954.8,364.3 962.5,362.5C971.4,360.4 991.0,355.3 1000.0,353.8C1008.3,352.3 1026.8,351.5 1035.0,350.0C1041.7,348.8 1055.8,343.5 1062.5,342.5C1071.3,341.1 1091.1,340.6 1100.0,340.0C1108.9,339.4 1128.6,338.6 1137.5,337.5C1149.5,336.0 1175.5,330.4 1187.5,328.8C1196.4,327.5 1216.1,326.2 1225.0,325.5C1233.9,324.8 1253.6,323.2 1262.5,322.5C1268.4,322.0 1281.5,321.0 1287.5,320.8C1291.7,320.6 1300.9,320.1 1305.0,320.8C1308.8,321.4 1316.7,324.3 1320.0,326.2C1324.0,328.6 1331.9,335.2 1335.0,338.8C1338.0,342.2 1343.0,350.9 1345.0,355.0C1347.2,359.6 1351.1,370.1 1352.5,375.0C1354.1,380.8 1356.5,394.0 1357.5,400.0C1358.9,408.3 1361.3,426.7 1362.5,435.0C1363.6,442.7 1366.3,459.8 1367.5,467.5C1368.6,474.7 1371.2,490.4 1372.5,497.5C1373.2,501.7 1374.3,511.1 1376.0,515.0C1376.4,516.0 1379.7,517.0 1380.5,516.2C1383.2,513.6 1385.6,504.6 1388.8,502.5C1390.2,501.6 1393.3,505.9 1393.8,507.5C1395.8,515.7 1397.7,534.1 1398.8,542.5C1399.8,551.1 1397.1,571.8 1402.5,578.5C1406.1,583.0 1407.1,560.6 1408.8,555.0C1409.8,551.4 1410.4,538.3 1413.8,540.0C1418.1,542.2 1417.3,555.3 1418.8,560.0C1419.6,562.8 1421.9,573.6 1423.8,571.2C1428.2,565.6 1430.8,549.4 1432.5,542.5C1434.7,533.7 1438.4,514.0 1440.0,505.0C1441.6,496.1 1444.8,476.4 1446.2,467.5C1447.4,460.4 1449.7,444.6 1451.2,437.5C1452.3,432.6 1455.1,421.9 1457.5,417.5C1458.3,416.1 1462.7,413.8 1463.8,415.0C1466.3,417.8 1468.1,426.3 1468.8,430.0C1470.5,440.6 1472.5,464.3 1473.8,475.0C1475.0,485.7 1473.2,511.2 1479.5,520.0C1483.4,525.5 1485.0,499.1 1486.2,492.5C1487.8,484.8 1489.6,467.7 1491.2,460.0C1492.3,455.1 1495.3,444.5 1497.5,440.0C1498.6,437.7 1502.7,433.6 1505.0,432.5C1506.8,431.6 1512.0,431.1 1513.5,432.5C1515.9,434.7 1517.1,442.1 1518.5,445.0C1519.5,447.2 1521.5,452.4 1523.5,453.8C1525.0,454.8 1529.2,454.1 1531.0,453.8C1532.3,453.5 1534.8,450.7 1536.0,451.2C1538.4,452.4 1540.9,459.3 1543.5,459.5C1545.9,459.7 1549.4,454.4 1551.0,452.5C1553.3,449.7 1558.0,443.2 1559.8,440.0C1562.2,435.4 1566.1,424.6 1568.5,420.0C1570.3,416.5 1573.4,404.6 1577.0,406.0C1581.3,407.7 1580.8,420.4 1581.5,425.0C1582.7,432.1 1583.7,447.9 1585.0,455.0C1585.4,457.2 1586.3,463.1 1588.5,463.8C1590.3,464.3 1592.3,459.0 1593.5,457.5C1595.0,455.7 1599.0,452.2 1599.8,450.0C1601.7,444.3 1603.7,431.0 1604.8,425.0C1605.8,419.1 1606.9,405.8 1608.5,400.0C1609.1,397.9 1611.4,392.5 1613.5,392.5C1615.5,392.5 1616.5,398.1 1617.2,400.0C1618.3,402.6 1618.5,412.7 1621.0,411.2C1624.5,409.2 1624.6,398.8 1626.0,395.0C1627.3,391.4 1628.5,380.8 1632.2,380.0C1635.4,379.3 1636.2,389.5 1637.2,392.5C1638.6,396.6 1640.4,406.1 1642.2,410.0C1642.6,410.9 1645.4,412.0 1646.0,411.2C1647.9,409.0 1649.6,402.6 1651.0,400.0C1652.3,397.8 1654.8,391.9 1657.2,391.2C1660.5,390.4 1668.5,392.7 1671.0,395.0C1673.8,397.6 1676.2,406.3 1677.2,410.0C1678.9,415.8 1680.8,429.1 1682.2,435.0C1683.2,438.9 1684.4,454.1 1687.2,451.2C1691.7,446.8 1691.0,431.2 1692.2,425.0C1693.4,419.6 1693.4,406.4 1697.2,402.5C1699.5,400.2 1701.0,412.1 1702.2,415.0C1703.1,416.8 1704.7,424.0 1706.0,422.5C1708.9,419.2 1710.1,409.2 1711.0,405.0C1712.5,397.9 1714.7,382.1 1716.0,375.0C1717.1,369.0 1719.1,355.8 1721.0,350.0C1721.6,348.2 1724.1,343.4 1726.0,343.8C1728.7,344.3 1731.9,350.3 1733.5,352.5C1734.9,354.4 1736.6,362.4 1738.5,361.0C1741.7,358.6 1741.7,348.5 1743.5,345.0C1744.7,342.7 1748.6,338.0 1751.0,337.0C1752.7,336.3 1757.0,337.7 1758.5,338.8C1761.1,340.6 1764.5,347.2 1767.2,348.8C1768.4,349.4 1771.3,347.2 1772.2,346.2C1774.1,344.4 1776.3,338.8 1778.5,337.5C1781.1,335.9 1788.0,335.4 1791.0,335.0C1794.6,334.5 1802.9,335.6 1806.0,333.8C1808.6,332.2 1809.2,322.8 1812.2,322.5C1814.9,322.2 1816.5,330.0 1817.2,332.5C1818.9,337.7 1820.2,349.9 1822.2,355.0C1822.7,356.2 1825.9,357.7 1827.2,357.5C1830.1,357.1 1835.6,352.7 1838.5,352.5C1841.3,352.3 1847.3,357.7 1849.8,356.2C1852.7,354.4 1853.1,345.6 1854.8,342.5C1855.5,341.0 1858.7,336.2 1859.8,337.5C1862.5,340.9 1863.5,350.9 1864.8,355.0C1866.2,359.7 1868.4,370.4 1871.0,374.5C1871.7,375.6 1875.3,373.6 1876.0,372.5C1877.9,369.3 1879.0,360.7 1881.0,357.5C1881.6,356.5 1885.2,355.3 1886.0,356.2C1888.4,358.9 1889.7,367.5 1892.2,370.0C1893.3,371.1 1897.6,370.0 1898.5,368.8C1900.9,365.7 1902.3,356.7 1904.8,353.8C1905.7,352.6 1909.8,352.9 1911.0,353.8C1913.9,355.8 1918.5,362.4 1921.0,365.0C1923.6,367.8 1928.5,376.7 1932.2,376.2C1936.5,375.8 1940.7,365.7 1943.5,362.5C1945.7,360.0 1950.2,353.1 1953.5,352.5C1956.3,352.0 1960.9,357.7 1963.5,358.8C1965.2,359.4 1969.3,359.0 1971.0,359.5C1972.9,360.0 1976.6,363.6 1978.5,363.0C1980.8,362.2 1984.0,357.3 1984.8,355.0C1986.5,349.2 1987.5,335.9 1988.5,330.0C1989.3,325.2 1990.9,314.6 1992.2,310.0C1992.7,308.6 1995.2,303.7 1996.0,305.0C1997.9,308.1 1998.2,316.4 1998.6,320.0C1999.5,328.1 2000.7,345.9 2001.2,354.0C2001.6,359.9 2002.2,373.0 2002.5,379.0"/>
<path stroke-width="2.2" transform="translate(2.6,2.6)" d="M228.8,389.2C236.8,388.4 254.5,386.6 262.5,385.8C271.4,384.8 291.1,382.7 300.0,382.0C307.1,381.4 322.9,380.6 330.0,380.2C334.8,380.0 345.3,380.1 350.0,379.2C352.6,378.8 357.4,374.9 360.0,374.5C362.4,374.1 367.7,375.7 370.0,376.2C372.4,376.9 377.5,379.5 380.0,379.5C382.5,379.5 387.6,376.0 390.0,376.5C392.9,377.1 397.6,382.1 400.0,383.8C402.3,385.3 407.6,388.5 410.0,390.0C413.6,392.3 421.8,397.2 425.0,400.0C429.0,403.5 436.2,412.6 440.0,416.2C442.2,418.3 448.0,421.6 450.0,423.8C452.8,426.7 457.6,434.2 460.0,437.5C461.8,439.9 466.0,444.9 467.5,447.5C469.6,450.9 473.4,458.8 475.0,462.5C477.6,468.4 482.6,481.5 485.0,487.5C486.8,492.0 490.4,501.9 492.5,506.2C493.4,508.2 495.6,512.8 497.5,513.8C500.2,515.1 507.3,513.8 510.0,515.0C513.5,516.6 519.2,523.1 522.5,525.0C525.8,527.0 534.1,529.4 537.5,531.2C541.3,533.3 548.5,539.7 552.5,541.2C554.4,542.0 559.4,541.5 561.2,540.5C563.9,539.0 567.8,533.3 570.0,531.2C573.4,528.1 582.3,522.5 585.0,518.8C589.5,512.5 595.9,496.5 600.0,490.0C602.5,486.1 609.2,478.3 612.5,475.0C617.0,470.5 627.2,460.9 632.5,457.5C636.2,455.1 645.9,452.9 650.0,451.2C654.8,449.3 665.2,444.5 670.0,442.5C673.6,441.0 681.2,436.8 685.0,436.2C693.3,435.1 711.7,435.9 720.0,435.8C725.4,435.6 737.3,436.2 742.5,435.0C744.8,434.5 747.8,428.0 750.0,428.8C752.9,429.8 754.6,437.5 756.2,440.0C757.5,441.9 760.2,447.5 762.5,447.5C764.6,447.5 766.6,441.9 767.5,440.0C769.0,436.8 769.9,428.5 772.5,426.2C775.0,424.1 782.9,423.7 786.2,423.8C788.7,423.8 794.1,428.0 796.2,426.8C799.7,424.7 802.4,415.5 805.0,412.5C806.9,410.2 812.3,406.1 815.0,405.0C819.5,403.1 830.2,401.1 835.0,400.0C840.9,398.7 854.1,396.5 860.0,395.0C865.5,393.6 877.2,389.5 882.5,387.5C888.0,385.4 899.5,379.5 905.0,377.5C910.8,375.4 924.0,371.6 930.0,370.0C937.7,368.0 954.8,364.3 962.5,362.5C971.4,360.4 991.0,355.3 1000.0,353.8C1008.3,352.3 1026.8,351.5 1035.0,350.0C1041.7,348.8 1055.8,343.5 1062.5,342.5C1071.3,341.1 1091.1,340.6 1100.0,340.0C1108.9,339.4 1128.6,338.6 1137.5,337.5C1149.5,336.0 1175.5,330.4 1187.5,328.8C1196.4,327.5 1216.1,326.2 1225.0,325.5C1233.9,324.8 1253.6,323.2 1262.5,322.5C1268.4,322.0 1281.5,321.0 1287.5,320.8C1291.7,320.6 1300.9,320.1 1305.0,320.8C1308.8,321.4 1316.7,324.3 1320.0,326.2C1324.0,328.6 1331.9,335.2 1335.0,338.8C1338.0,342.2 1343.0,350.9 1345.0,355.0C1347.2,359.6 1351.1,370.1 1352.5,375.0C1354.1,380.8 1356.5,394.0 1357.5,400.0C1358.9,408.3 1361.3,426.7 1362.5,435.0C1363.6,442.7 1366.3,459.8 1367.5,467.5C1368.6,474.7 1371.2,490.4 1372.5,497.5C1373.2,501.7 1374.3,511.1 1376.0,515.0C1376.4,516.0 1379.7,517.0 1380.5,516.2C1383.2,513.6 1385.6,504.6 1388.8,502.5C1390.2,501.6 1393.3,505.9 1393.8,507.5C1395.8,515.7 1397.7,534.1 1398.8,542.5C1399.8,551.1 1397.1,571.8 1402.5,578.5C1406.1,583.0 1407.1,560.6 1408.8,555.0C1409.8,551.4 1410.4,538.3 1413.8,540.0C1418.1,542.2 1417.3,555.3 1418.8,560.0C1419.6,562.8 1421.9,573.6 1423.8,571.2C1428.2,565.6 1430.8,549.4 1432.5,542.5C1434.7,533.7 1438.4,514.0 1440.0,505.0C1441.6,496.1 1444.8,476.4 1446.2,467.5C1447.4,460.4 1449.7,444.6 1451.2,437.5C1452.3,432.6 1455.1,421.9 1457.5,417.5C1458.3,416.1 1462.7,413.8 1463.8,415.0C1466.3,417.8 1468.1,426.3 1468.8,430.0C1470.5,440.6 1472.5,464.3 1473.8,475.0C1475.0,485.7 1473.2,511.2 1479.5,520.0C1483.4,525.5 1485.0,499.1 1486.2,492.5C1487.8,484.8 1489.6,467.7 1491.2,460.0C1492.3,455.1 1495.3,444.5 1497.5,440.0C1498.6,437.7 1502.7,433.6 1505.0,432.5C1506.8,431.6 1512.0,431.1 1513.5,432.5C1515.9,434.7 1517.1,442.1 1518.5,445.0C1519.5,447.2 1521.5,452.4 1523.5,453.8C1525.0,454.8 1529.2,454.1 1531.0,453.8C1532.3,453.5 1534.8,450.7 1536.0,451.2C1538.4,452.4 1540.9,459.3 1543.5,459.5C1545.9,459.7 1549.4,454.4 1551.0,452.5C1553.3,449.7 1558.0,443.2 1559.8,440.0C1562.2,435.4 1566.1,424.6 1568.5,420.0C1570.3,416.5 1573.4,404.6 1577.0,406.0C1581.3,407.7 1580.8,420.4 1581.5,425.0C1582.7,432.1 1583.7,447.9 1585.0,455.0C1585.4,457.2 1586.3,463.1 1588.5,463.8C1590.3,464.3 1592.3,459.0 1593.5,457.5C1595.0,455.7 1599.0,452.2 1599.8,450.0C1601.7,444.3 1603.7,431.0 1604.8,425.0C1605.8,419.1 1606.9,405.8 1608.5,400.0C1609.1,397.9 1611.4,392.5 1613.5,392.5C1615.5,392.5 1616.5,398.1 1617.2,400.0C1618.3,402.6 1618.5,412.7 1621.0,411.2C1624.5,409.2 1624.6,398.8 1626.0,395.0C1627.3,391.4 1628.5,380.8 1632.2,380.0C1635.4,379.3 1636.2,389.5 1637.2,392.5C1638.6,396.6 1640.4,406.1 1642.2,410.0C1642.6,410.9 1645.4,412.0 1646.0,411.2C1647.9,409.0 1649.6,402.6 1651.0,400.0C1652.3,397.8 1654.8,391.9 1657.2,391.2C1660.5,390.4 1668.5,392.7 1671.0,395.0C1673.8,397.6 1676.2,406.3 1677.2,410.0C1678.9,415.8 1680.8,429.1 1682.2,435.0C1683.2,438.9 1684.4,454.1 1687.2,451.2C1691.7,446.8 1691.0,431.2 1692.2,425.0C1693.4,419.6 1693.4,406.4 1697.2,402.5C1699.5,400.2 1701.0,412.1 1702.2,415.0C1703.1,416.8 1704.7,424.0 1706.0,422.5C1708.9,419.2 1710.1,409.2 1711.0,405.0C1712.5,397.9 1714.7,382.1 1716.0,375.0C1717.1,369.0 1719.1,355.8 1721.0,350.0C1721.6,348.2 1724.1,343.4 1726.0,343.8C1728.7,344.3 1731.9,350.3 1733.5,352.5C1734.9,354.4 1736.6,362.4 1738.5,361.0C1741.7,358.6 1741.7,348.5 1743.5,345.0C1744.7,342.7 1748.6,338.0 1751.0,337.0C1752.7,336.3 1757.0,337.7 1758.5,338.8C1761.1,340.6 1764.5,347.2 1767.2,348.8C1768.4,349.4 1771.3,347.2 1772.2,346.2C1774.1,344.4 1776.3,338.8 1778.5,337.5C1781.1,335.9 1788.0,335.4 1791.0,335.0C1794.6,334.5 1802.9,335.6 1806.0,333.8C1808.6,332.2 1809.2,322.8 1812.2,322.5C1814.9,322.2 1816.5,330.0 1817.2,332.5C1818.9,337.7 1820.2,349.9 1822.2,355.0C1822.7,356.2 1825.9,357.7 1827.2,357.5C1830.1,357.1 1835.6,352.7 1838.5,352.5C1841.3,352.3 1847.3,357.7 1849.8,356.2C1852.7,354.4 1853.1,345.6 1854.8,342.5C1855.5,341.0 1858.7,336.2 1859.8,337.5C1862.5,340.9 1863.5,350.9 1864.8,355.0C1866.2,359.7 1868.4,370.4 1871.0,374.5C1871.7,375.6 1875.3,373.6 1876.0,372.5C1877.9,369.3 1879.0,360.7 1881.0,357.5C1881.6,356.5 1885.2,355.3 1886.0,356.2C1888.4,358.9 1889.7,367.5 1892.2,370.0C1893.3,371.1 1897.6,370.0 1898.5,368.8C1900.9,365.7 1902.3,356.7 1904.8,353.8C1905.7,352.6 1909.8,352.9 1911.0,353.8C1913.9,355.8 1918.5,362.4 1921.0,365.0C1923.6,367.8 1928.5,376.7 1932.2,376.2C1936.5,375.8 1940.7,365.7 1943.5,362.5C1945.7,360.0 1950.2,353.1 1953.5,352.5C1956.3,352.0 1960.9,357.7 1963.5,358.8C1965.2,359.4 1969.3,359.0 1971.0,359.5C1972.9,360.0 1976.6,363.6 1978.5,363.0C1980.8,362.2 1984.0,357.3 1984.8,355.0C1986.5,349.2 1987.5,335.9 1988.5,330.0C1989.3,325.2 1990.9,314.6 1992.2,310.0C1992.7,308.6 1995.2,303.7 1996.0,305.0C1997.9,308.1 1998.2,316.4 1998.6,320.0C1999.5,328.1 2000.7,345.9 2001.2,354.0C2001.6,359.9 2002.2,373.0 2002.5,379.0"/>
</g>
<g class="c" stroke="#00f">
<path stroke-width="6.4" d="M228.8,550.0C236.7,544.6 244.2,538.5 252.5,533.8C258.0,530.6 264.3,529.1 270.0,526.4C273.0,525.0 275.7,523.0 278.5,521.3C281.3,519.6 284.0,517.6 286.9,516.2C289.0,515.2 291.2,514.4 293.5,513.9C296.0,513.4 298.5,513.3 301.0,513.3C303.8,513.3 306.8,513.3 309.5,514.1C312.9,515.1 316.0,517.1 319.1,518.8C322.0,520.3 325.0,521.8 327.5,523.8C330.1,525.9 332.0,528.6 334.3,531.0C336.8,533.7 339.5,536.3 341.9,539.1C344.3,541.8 346.7,544.5 348.7,547.5C350.7,550.4 352.3,553.6 353.8,556.8C355.2,559.8 356.2,563.0 357.3,566.1C358.5,569.5 359.6,572.9 360.6,576.3C361.8,580.0 362.8,583.6 363.9,587.3C364.9,591.0 365.8,594.6 366.7,598.3C367.6,601.7 368.5,605.0 369.2,608.4C370.0,612.2 370.8,616.1 371.4,620.0C372.8,630.0 374.2,640.0 375.4,650.0C377.4,666.6 379.3,683.3 381.0,700.0C382.7,716.7 384.3,733.3 385.8,750.0C387.3,766.7 388.7,783.3 390.0,800.0C391.4,816.7 392.7,833.3 394.0,850.0C395.3,866.7 396.5,883.3 397.8,900.0C399.2,916.7 400.5,933.3 402.0,950.0C403.5,966.7 405.1,983.3 406.8,1000.0C408.5,1016.7 410.2,1033.4 412.2,1050.0C414.2,1066.7 416.3,1083.4 418.8,1100.0C420.9,1114.2 423.1,1128.4 426.0,1142.5C428.7,1155.4 432.0,1168.3 435.5,1181.0C437.4,1187.5 439.8,1193.7 442.2,1200.0C444.5,1205.9 447.1,1211.7 449.5,1217.5C451.6,1222.5 453.5,1227.7 455.9,1232.6C458.0,1237.0 460.5,1241.2 463.0,1245.3C465.5,1249.4 468.1,1253.5 471.0,1257.3C473.4,1260.4 476.1,1263.4 479.0,1266.0C481.1,1267.9 483.5,1269.5 486.1,1270.8C488.4,1271.9 490.8,1273.0 493.3,1273.2C496.0,1273.4 498.7,1272.4 501.3,1271.8C503.7,1271.3 506.3,1271.2 508.4,1270.0C511.2,1268.4 513.4,1266.0 515.6,1263.7C518.2,1261.0 520.7,1258.0 522.8,1254.9C525.2,1251.3 527.2,1247.5 529.2,1243.7C531.2,1239.8 532.9,1235.8 534.7,1231.8C536.7,1227.3 538.7,1222.8 540.5,1218.2C542.4,1213.5 544.2,1208.7 546.0,1203.9C547.6,1199.4 549.2,1194.9 550.8,1190.4C551.9,1187.0 553.1,1183.5 554.1,1180.0C557.0,1170.0 559.6,1160.0 562.4,1150.0C564.0,1144.2 565.6,1138.3 567.3,1132.5C568.7,1127.7 570.2,1123.0 571.7,1118.2C573.5,1112.3 575.5,1106.5 577.4,1100.6C579.4,1094.3 581.3,1088.0 583.4,1081.8C585.3,1076.3 587.3,1070.9 589.2,1065.4C591.1,1059.9 593.3,1054.5 595.1,1049.0C597.1,1042.8 599.0,1036.6 600.7,1030.3C602.8,1022.5 604.6,1014.7 606.4,1006.9C608.2,999.1 610.0,991.3 611.7,983.4C613.3,975.6 614.8,967.8 616.3,960.0C617.0,956.7 617.7,953.3 618.3,950.0C621.3,933.3 624.4,916.7 627.2,900.0C630.0,883.4 632.5,866.7 635.1,850.0C637.6,833.3 640.1,816.7 642.6,800.0C645.1,783.3 647.6,766.7 650.2,750.0C652.9,733.3 655.5,716.6 658.4,700.0C661.3,683.3 664.5,666.6 667.7,650.0C671.0,633.3 674.3,616.6 677.8,600.0C681.3,583.3 684.8,566.6 688.7,550.0C692.7,533.3 697.0,516.6 701.5,500.0C704.9,487.4 708.4,474.8 712.5,462.5C716.2,451.5 719.6,440.3 725.0,430.0C728.0,424.2 733.0,419.7 737.5,415.0C741.4,410.9 744.5,404.9 750.0,403.8C754.2,402.9 757.9,412.7 761.2,410.0C766.7,405.7 764.7,396.4 767.5,390.0C769.3,385.9 771.7,381.8 775.0,378.8C778.1,375.9 782.0,372.8 786.2,373.0C790.3,373.2 792.5,381.6 796.2,380.0C800.9,378.1 799.3,370.1 802.5,366.2C805.0,363.3 808.8,361.6 812.5,360.8C817.4,359.7 822.6,360.0 827.5,360.8C835.1,361.9 842.7,363.7 850.0,366.2C858.6,369.3 866.8,373.4 875.0,377.5C883.5,381.8 891.7,386.7 900.0,391.2C908.3,395.8 916.8,400.3 925.0,405.0C933.4,409.8 941.7,415.0 950.0,420.0C958.3,425.0 966.6,430.2 975.0,435.0C983.2,439.7 991.8,443.9 1000.0,448.8C1008.5,453.9 1016.4,460.1 1025.0,465.0C1028.9,467.2 1033.8,467.5 1037.5,470.0C1046.4,475.9 1054.2,483.3 1062.5,490.0C1070.8,496.7 1079.2,503.3 1087.5,510.0C1091.7,513.3 1096.0,516.5 1100.0,520.0C1108.5,527.3 1116.5,535.2 1125.0,542.5C1133.1,549.4 1141.0,556.7 1150.0,562.5C1155.3,565.9 1161.4,568.1 1167.5,570.0C1172.3,571.5 1177.4,572.3 1182.5,572.5C1186.7,572.7 1191.0,572.4 1195.0,571.2C1201.1,569.5 1207.0,566.9 1212.5,563.8C1218.7,560.2 1224.3,555.6 1230.0,551.2C1236.8,546.0 1242.8,539.7 1250.0,535.0C1256.2,530.9 1263.1,527.7 1270.0,525.0C1274.8,523.1 1279.9,521.9 1285.0,521.2C1290.0,520.6 1295.1,520.2 1300.0,521.2C1305.3,522.4 1310.5,524.4 1315.0,527.5C1319.9,530.8 1324.0,535.3 1327.5,540.0C1331.5,545.4 1334.8,551.3 1337.5,557.5C1340.7,564.7 1342.8,572.4 1345.0,580.0C1347.4,588.2 1349.3,596.6 1351.1,605.0C1352.1,610.0 1352.8,615.0 1353.5,620.0C1355.7,636.7 1358.1,653.3 1359.9,670.0C1362.3,690.8 1364.2,711.7 1366.1,732.5C1368.1,753.3 1369.6,774.2 1371.5,795.0C1373.0,811.7 1374.5,828.3 1376.1,845.0C1377.8,861.7 1379.5,878.3 1381.3,895.0C1382.9,910.0 1384.5,925.0 1386.3,940.0C1387.4,950.0 1388.1,960.1 1390.0,970.0C1390.7,973.5 1390.2,980.0 1393.8,980.0C1397.3,980.0 1396.9,973.5 1397.5,970.0C1399.3,960.1 1400.1,950.0 1401.1,940.0C1403.0,920.9 1404.7,901.7 1406.3,882.5C1407.7,865.8 1408.7,849.2 1409.8,832.5C1411.2,811.7 1412.2,790.8 1413.7,770.0C1415.3,749.1 1416.9,728.3 1419.1,707.5C1420.6,693.3 1422.6,679.1 1424.7,665.0C1426.4,653.3 1428.2,641.6 1430.7,630.0C1432.5,621.6 1434.9,613.2 1437.5,605.0C1440.1,596.6 1442.5,588.0 1446.2,580.0C1448.4,575.4 1451.4,571.1 1455.0,567.5C1458.2,564.3 1461.9,561.1 1466.2,560.0C1470.7,558.9 1475.4,561.7 1480.0,561.2C1483.9,560.9 1487.3,557.4 1491.2,557.5C1496.1,557.6 1500.2,561.5 1505.0,562.0C1508.7,562.4 1512.8,561.8 1516.0,560.0C1520.1,557.7 1522.5,553.2 1526.0,550.0C1528.4,547.8 1530.5,545.0 1533.5,543.8C1539.0,541.5 1545.1,540.9 1551.0,540.0C1559.3,538.8 1567.6,537.8 1576.0,537.5C1580.2,537.4 1584.3,539.0 1588.5,538.8C1594.4,538.4 1600.1,536.2 1606.0,535.5C1614.3,534.5 1622.7,533.5 1631.0,533.8C1637.8,534.0 1644.2,536.9 1651.0,537.0C1654.9,537.1 1658.4,534.5 1662.2,534.2C1668.5,533.8 1674.7,535.0 1681.0,535.0C1686.0,535.0 1691.0,534.3 1696.0,534.5C1701.0,534.7 1706.2,534.8 1711.0,536.2C1715.5,537.6 1719.6,539.9 1723.5,542.5C1727.2,545.0 1730.6,547.9 1733.5,551.2C1737.3,555.5 1740.4,560.2 1743.5,565.0C1747.1,570.7 1750.5,576.5 1753.5,582.5C1757.2,589.8 1760.5,597.3 1763.5,605.0C1766.3,612.4 1768.5,620.0 1770.9,627.5C1772.7,633.3 1774.4,639.2 1776.1,645.0C1778.6,653.3 1781.0,661.7 1783.4,670.0C1786.0,679.2 1788.5,688.3 1791.0,697.5C1793.6,706.7 1796.0,715.8 1798.5,725.0C1801.0,734.2 1803.5,743.3 1806.0,752.5C1808.5,761.7 1810.9,770.9 1813.5,780.0C1815.9,788.4 1818.3,796.7 1821.0,805.0C1823.4,812.6 1825.9,820.1 1828.7,827.5C1830.9,833.4 1833.5,839.2 1836.0,845.0C1838.5,850.8 1840.8,856.7 1843.5,862.5C1846.7,869.3 1849.9,876.0 1853.5,882.5C1856.6,888.1 1859.9,893.5 1863.5,898.8C1867.4,904.4 1871.5,909.8 1876.0,915.0C1879.9,919.4 1884.2,923.4 1888.5,927.5C1892.6,931.4 1896.9,934.9 1901.0,938.8C1904.4,942.0 1907.0,946.2 1911.0,948.8C1913.1,950.1 1916.2,948.9 1918.5,950.0C1923.0,952.3 1926.5,956.5 1931.0,958.8C1934.9,960.7 1939.2,961.9 1943.5,962.5C1947.6,963.1 1951.9,961.7 1956.0,962.5C1960.4,963.4 1964.3,965.9 1968.5,967.5C1971.8,968.8 1975.0,971.8 1978.5,971.2C1981.7,970.8 1984.5,967.9 1986.0,965.0C1988.4,960.4 1988.6,955.0 1989.8,950.0C1991.1,944.2 1991.5,938.1 1993.5,932.5C1994.1,930.8 1995.8,927.8 1997.2,928.8C1999.9,930.5 2000.3,934.4 2001.0,937.5C2002.4,943.2 2002.7,949.2 2003.5,955.0"/>
<path stroke-width="2.2" transform="translate(-2.6,-2.6)" d="M228.8,550.0C236.7,544.6 244.2,538.5 252.5,533.8C258.0,530.6 264.3,529.1 270.0,526.4C273.0,525.0 275.7,523.0 278.5,521.3C281.3,519.6 284.0,517.6 286.9,516.2C289.0,515.2 291.2,514.4 293.5,513.9C296.0,513.4 298.5,513.3 301.0,513.3C303.8,513.3 306.8,513.3 309.5,514.1C312.9,515.1 316.0,517.1 319.1,518.8C322.0,520.3 325.0,521.8 327.5,523.8C330.1,525.9 332.0,528.6 334.3,531.0C336.8,533.7 339.5,536.3 341.9,539.1C344.3,541.8 346.7,544.5 348.7,547.5C350.7,550.4 352.3,553.6 353.8,556.8C355.2,559.8 356.2,563.0 357.3,566.1C358.5,569.5 359.6,572.9 360.6,576.3C361.8,580.0 362.8,583.6 363.9,587.3C364.9,591.0 365.8,594.6 366.7,598.3C367.6,601.7 368.5,605.0 369.2,608.4C370.0,612.2 370.8,616.1 371.4,620.0C372.8,630.0 374.2,640.0 375.4,650.0C377.4,666.6 379.3,683.3 381.0,700.0C382.7,716.7 384.3,733.3 385.8,750.0C387.3,766.7 388.7,783.3 390.0,800.0C391.4,816.7 392.7,833.3 394.0,850.0C395.3,866.7 396.5,883.3 397.8,900.0C399.2,916.7 400.5,933.3 402.0,950.0C403.5,966.7 405.1,983.3 406.8,1000.0C408.5,1016.7 410.2,1033.4 412.2,1050.0C414.2,1066.7 416.3,1083.4 418.8,1100.0C420.9,1114.2 423.1,1128.4 426.0,1142.5C428.7,1155.4 432.0,1168.3 435.5,1181.0C437.4,1187.5 439.8,1193.7 442.2,1200.0C444.5,1205.9 447.1,1211.7 449.5,1217.5C451.6,1222.5 453.5,1227.7 455.9,1232.6C458.0,1237.0 460.5,1241.2 463.0,1245.3C465.5,1249.4 468.1,1253.5 471.0,1257.3C473.4,1260.4 476.1,1263.4 479.0,1266.0C481.1,1267.9 483.5,1269.5 486.1,1270.8C488.4,1271.9 490.8,1273.0 493.3,1273.2C496.0,1273.4 498.7,1272.4 501.3,1271.8C503.7,1271.3 506.3,1271.2 508.4,1270.0C511.2,1268.4 513.4,1266.0 515.6,1263.7C518.2,1261.0 520.7,1258.0 522.8,1254.9C525.2,1251.3 527.2,1247.5 529.2,1243.7C531.2,1239.8 532.9,1235.8 534.7,1231.8C536.7,1227.3 538.7,1222.8 540.5,1218.2C542.4,1213.5 544.2,1208.7 546.0,1203.9C547.6,1199.4 549.2,1194.9 550.8,1190.4C551.9,1187.0 553.1,1183.5 554.1,1180.0C557.0,1170.0 559.6,1160.0 562.4,1150.0C564.0,1144.2 565.6,1138.3 567.3,1132.5C568.7,1127.7 570.2,1123.0 571.7,1118.2C573.5,1112.3 575.5,1106.5 577.4,1100.6C579.4,1094.3 581.3,1088.0 583.4,1081.8C585.3,1076.3 587.3,1070.9 589.2,1065.4C591.1,1059.9 593.3,1054.5 595.1,1049.0C597.1,1042.8 599.0,1036.6 600.7,1030.3C602.8,1022.5 604.6,1014.7 606.4,1006.9C608.2,999.1 610.0,991.3 611.7,983.4C613.3,975.6 614.8,967.8 616.3,960.0C617.0,956.7 617.7,953.3 618.3,950.0C621.3,933.3 624.4,916.7 627.2,900.0C630.0,883.4 632.5,866.7 635.1,850.0C637.6,833.3 640.1,816.7 642.6,800.0C645.1,783.3 647.6,766.7 650.2,750.0C652.9,733.3 655.5,716.6 658.4,700.0C661.3,683.3 664.5,666.6 667.7,650.0C671.0,633.3 674.3,616.6 677.8,600.0C681.3,583.3 684.8,566.6 688.7,550.0C692.7,533.3 697.0,516.6 701.5,500.0C704.9,487.4 708.4,474.8 712.5,462.5C716.2,451.5 719.6,440.3 725.0,430.0C728.0,424.2 733.0,419.7 737.5,415.0C741.4,410.9 744.5,404.9 750.0,403.8C754.2,402.9 757.9,412.7 761.2,410.0C766.7,405.7 764.7,396.4 767.5,390.0C769.3,385.9 771.7,381.8 775.0,378.8C778.1,375.9 782.0,372.8 786.2,373.0C790.3,373.2 792.5,381.6 796.2,380.0C800.9,378.1 799.3,370.1 802.5,366.2C805.0,363.3 808.8,361.6 812.5,360.8C817.4,359.7 822.6,360.0 827.5,360.8C835.1,361.9 842.7,363.7 850.0,366.2C858.6,369.3 866.8,373.4 875.0,377.5C883.5,381.8 891.7,386.7 900.0,391.2C908.3,395.8 916.8,400.3 925.0,405.0C933.4,409.8 941.7,415.0 950.0,420.0C958.3,425.0 966.6,430.2 975.0,435.0C983.2,439.7 991.8,443.9 1000.0,448.8C1008.5,453.9 1016.4,460.1 1025.0,465.0C1028.9,467.2 1033.8,467.5 1037.5,470.0C1046.4,475.9 1054.2,483.3 1062.5,490.0C1070.8,496.7 1079.2,503.3 1087.5,510.0C1091.7,513.3 1096.0,516.5 1100.0,520.0C1108.5,527.3 1116.5,535.2 1125.0,542.5C1133.1,549.4 1141.0,556.7 1150.0,562.5C1155.3,565.9 1161.4,568.1 1167.5,570.0C1172.3,571.5 1177.4,572.3 1182.5,572.5C1186.7,572.7 1191.0,572.4 1195.0,571.2C1201.1,569.5 1207.0,566.9 1212.5,563.8C1218.7,560.2 1224.3,555.6 1230.0,551.2C1236.8,546.0 1242.8,539.7 1250.0,535.0C1256.2,530.9 1263.1,527.7 1270.0,525.0C1274.8,523.1 1279.9,521.9 1285.0,521.2C1290.0,520.6 1295.1,520.2 1300.0,521.2C1305.3,522.4 1310.5,524.4 1315.0,527.5C1319.9,530.8 1324.0,535.3 1327.5,540.0C1331.5,545.4 1334.8,551.3 1337.5,557.5C1340.7,564.7 1342.8,572.4 1345.0,580.0C1347.4,588.2 1349.3,596.6 1351.1,605.0C1352.1,610.0 1352.8,615.0 1353.5,620.0C1355.7,636.7 1358.1,653.3 1359.9,670.0C1362.3,690.8 1364.2,711.7 1366.1,732.5C1368.1,753.3 1369.6,774.2 1371.5,795.0C1373.0,811.7 1374.5,828.3 1376.1,845.0C1377.8,861.7 1379.5,878.3 1381.3,895.0C1382.9,910.0 1384.5,925.0 1386.3,940.0C1387.4,950.0 1388.1,960.1 1390.0,970.0C1390.7,973.5 1390.2,980.0 1393.8,980.0C1397.3,980.0 1396.9,973.5 1397.5,970.0C1399.3,960.1 1400.1,950.0 1401.1,940.0C1403.0,920.9 1404.7,901.7 1406.3,882.5C1407.7,865.8 1408.7,849.2 1409.8,832.5C1411.2,811.7 1412.2,790.8 1413.7,770.0C1415.3,749.1 1416.9,728.3 1419.1,707.5C1420.6,693.3 1422.6,679.1 1424.7,665.0C1426.4,653.3 1428.2,641.6 1430.7,630.0C1432.5,621.6 1434.9,613.2 1437.5,605.0C1440.1,596.6 1442.5,588.0 1446.2,580.0C1448.4,575.4 1451.4,571.1 1455.0,567.5C1458.2,564.3 1461.9,561.1 1466.2,560.0C1470.7,558.9 1475.4,561.7 1480.0,561.2C1483.9,560.9 1487.3,557.4 1491.2,557.5C1496.1,557.6 1500.2,561.5 1505.0,562.0C1508.7,562.4 1512.8,561.8 1516.0,560.0C1520.1,557.7 1522.5,553.2 1526.0,550.0C1528.4,547.8 1530.5,545.0 1533.5,543.8C1539.0,541.5 1545.1,540.9 1551.0,540.0C1559.3,538.8 1567.6,537.8 1576.0,537.5C1580.2,537.4 1584.3,539.0 1588.5,538.8C1594.4,538.4 1600.1,536.2 1606.0,535.5C1614.3,534.5 1622.7,533.5 1631.0,533.8C1637.8,534.0 1644.2,536.9 1651.0,537.0C1654.9,537.1 1658.4,534.5 1662.2,534.2C1668.5,533.8 1674.7,535.0 1681.0,535.0C1686.0,535.0 1691.0,534.3 1696.0,534.5C1701.0,534.7 1706.2,534.8 1711.0,536.2C1715.5,537.6 1719.6,539.9 1723.5,542.5C1727.2,545.0 1730.6,547.9 1733.5,551.2C1737.3,555.5 1740.4,560.2 1743.5,565.0C1747.1,570.7 1750.5,576.5 1753.5,582.5C1757.2,589.8 1760.5,597.3 1763.5,605.0C1766.3,612.4 1768.5,620.0 1770.9,627.5C1772.7,633.3 1774.4,639.2 1776.1,645.0C1778.6,653.3 1781.0,661.7 1783.4,670.0C1786.0,679.2 1788.5,688.3 1791.0,697.5C1793.6,706.7 1796.0,715.8 1798.5,725.0C1801.0,734.2 1803.5,743.3 1806.0,752.5C1808.5,761.7 1810.9,770.9 1813.5,780.0C1815.9,788.4 1818.3,796.7 1821.0,805.0C1823.4,812.6 1825.9,820.1 1828.7,827.5C1830.9,833.4 1833.5,839.2 1836.0,845.0C1838.5,850.8 1840.8,856.7 1843.5,862.5C1846.7,869.3 1849.9,876.0 1853.5,882.5C1856.6,888.1 1859.9,893.5 1863.5,898.8C1867.4,904.4 1871.5,909.8 1876.0,915.0C1879.9,919.4 1884.2,923.4 1888.5,927.5C1892.6,931.4 1896.9,934.9 1901.0,938.8C1904.4,942.0 1907.0,946.2 1911.0,948.8C1913.1,950.1 1916.2,948.9 1918.5,950.0C1923.0,952.3 1926.5,956.5 1931.0,958.8C1934.9,960.7 1939.2,961.9 1943.5,962.5C1947.6,963.1 1951.9,961.7 1956.0,962.5C1960.4,963.4 1964.3,965.9 1968.5,967.5C1971.8,968.8 1975.0,971.8 1978.5,971.2C1981.7,970.8 1984.5,967.9 1986.0,965.0C1988.4,960.4 1988.6,955.0 1989.8,950.0C1991.1,944.2 1991.5,938.1 1993.5,932.5C1994.1,930.8 1995.8,927.8 1997.2,928.8C1999.9,930.5 2000.3,934.4 2001.0,937.5C2002.4,943.2 2002.7,949.2 2003.5,955.0"/>
<path stroke-width="2.2" transform="translate(2.6,-2.6)" d="M228.8,550.0C236.7,544.6 244.2,538.5 252.5,533.8C258.0,530.6 264.3,529.1 270.0,526.4C273.0,525.0 275.7,523.0 278.5,521.3C281.3,519.6 284.0,517.6 286.9,516.2C289.0,515.2 291.2,514.4 293.5,513.9C296.0,513.4 298.5,513.3 301.0,513.3C303.8,513.3 306.8,513.3 309.5,514.1C312.9,515.1 316.0,517.1 319.1,518.8C322.0,520.3 325.0,521.8 327.5,523.8C330.1,525.9 332.0,528.6 334.3,531.0C336.8,533.7 339.5,536.3 341.9,539.1C344.3,541.8 346.7,544.5 348.7,547.5C350.7,550.4 352.3,553.6 353.8,556.8C355.2,559.8 356.2,563.0 357.3,566.1C358.5,569.5 359.6,572.9 360.6,576.3C361.8,580.0 362.8,583.6 363.9,587.3C364.9,591.0 365.8,594.6 366.7,598.3C367.6,601.7 368.5,605.0 369.2,608.4C370.0,612.2 370.8,616.1 371.4,620.0C372.8,630.0 374.2,640.0 375.4,650.0C377.4,666.6 379.3,683.3 381.0,700.0C382.7,716.7 384.3,733.3 385.8,750.0C387.3,766.7 388.7,783.3 390.0,800.0C391.4,816.7 392.7,833.3 394.0,850.0C395.3,866.7 396.5,883.3 397.8,900.0C399.2,916.7 400.5,933.3 402.0,950.0C403.5,966.7 405.1,983.3 406.8,1000.0C408.5,1016.7 410.2,1033.4 412.2,1050.0C414.2,1066.7 416.3,1083.4 418.8,1100.0C420.9,1114.2 423.1,1128.4 426.0,1142.5C428.7,1155.4 432.0,1168.3 435.5,1181.0C437.4,1187.5 439.8,1193.7 442.2,1200.0C444.5,1205.9 447.1,1211.7 449.5,1217.5C451.6,1222.5 453.5,1227.7 455.9,1232.6C458.0,1237.0 460.5,1241.2 463.0,1245.3C465.5,1249.4 468.1,1253.5 471.0,1257.3C473.4,1260.4 476.1,1263.4 479.0,1266.0C481.1,1267.9 483.5,1269.5 486.1,1270.8C488.4,1271.9 490.8,1273.0 493.3,1273.2C496.0,1273.4 498.7,1272.4 501.3,1271.8C503.7,1271.3 506.3,1271.2 508.4,1270.0C511.2,1268.4 513.4,1266.0 515.6,1263.7C518.2,1261.0 520.7,1258.0 522.8,1254.9C525.2,1251.3 527.2,1247.5 529.2,1243.7C531.2,1239.8 532.9,1235.8 534.7,1231.8C536.7,1227.3 538.7,1222.8 540.5,1218.2C542.4,1213.5 544.2,1208.7 546.0,1203.9C547.6,1199.4 549.2,1194.9 550.8,1190.4C551.9,1187.0 553.1,1183.5 554.1,1180.0C557.0,1170.0 559.6,1160.0 562.4,1150.0C564.0,1144.2 565.6,1138.3 567.3,1132.5C568.7,1127.7 570.2,1123.0 571.7,1118.2C573.5,1112.3 575.5,1106.5 577.4,1100.6C579.4,1094.3 581.3,1088.0 583.4,1081.8C585.3,1076.3 587.3,1070.9 589.2,1065.4C591.1,1059.9 593.3,1054.5 595.1,1049.0C597.1,1042.8 599.0,1036.6 600.7,1030.3C602.8,1022.5 604.6,1014.7 606.4,1006.9C608.2,999.1 610.0,991.3 611.7,983.4C613.3,975.6 614.8,967.8 616.3,960.0C617.0,956.7 617.7,953.3 618.3,950.0C621.3,933.3 624.4,916.7 627.2,900.0C630.0,883.4 632.5,866.7 635.1,850.0C637.6,833.3 640.1,816.7 642.6,800.0C645.1,783.3 647.6,766.7 650.2,750.0C652.9,733.3 655.5,716.6 658.4,700.0C661.3,683.3 664.5,666.6 667.7,650.0C671.0,633.3 674.3,616.6 677.8,600.0C681.3,583.3 684.8,566.6 688.7,550.0C692.7,533.3 697.0,516.6 701.5,500.0C704.9,487.4 708.4,474.8 712.5,462.5C716.2,451.5 719.6,440.3 725.0,430.0C728.0,424.2 733.0,419.7 737.5,415.0C741.4,410.9 744.5,404.9 750.0,403.8C754.2,402.9 757.9,412.7 761.2,410.0C766.7,405.7 764.7,396.4 767.5,390.0C769.3,385.9 771.7,381.8 775.0,378.8C778.1,375.9 782.0,372.8 786.2,373.0C790.3,373.2 792.5,381.6 796.2,380.0C800.9,378.1 799.3,370.1 802.5,366.2C805.0,363.3 808.8,361.6 812.5,360.8C817.4,359.7 822.6,360.0 827.5,360.8C835.1,361.9 842.7,363.7 850.0,366.2C858.6,369.3 866.8,373.4 875.0,377.5C883.5,381.8 891.7,386.7 900.0,391.2C908.3,395.8 916.8,400.3 925.0,405.0C933.4,409.8 941.7,415.0 950.0,420.0C958.3,425.0 966.6,430.2 975.0,435.0C983.2,439.7 991.8,443.9 1000.0,448.8C1008.5,453.9 1016.4,460.1 1025.0,465.0C1028.9,467.2 1033.8,467.5 1037.5,470.0C1046.4,475.9 1054.2,483.3 1062.5,490.0C1070.8,496.7 1079.2,503.3 1087.5,510.0C1091.7,513.3 1096.0,516.5 1100.0,520.0C1108.5,527.3 1116.5,535.2 1125.0,542.5C1133.1,549.4 1141.0,556.7 1150.0,562.5C1155.3,565.9 1161.4,568.1 1167.5,570.0C1172.3,571.5 1177.4,572.3 1182.5,572.5C1186.7,572.7 1191.0,572.4 1195.0,571.2C1201.1,569.5 1207.0,566.9 1212.5,563.8C1218.7,560.2 1224.3,555.6 1230.0,551.2C1236.8,546.0 1242.8,539.7 1250.0,535.0C1256.2,530.9 1263.1,527.7 1270.0,525.0C1274.8,523.1 1279.9,521.9 1285.0,521.2C1290.0,520.6 1295.1,520.2 1300.0,521.2C1305.3,522.4 1310.5,524.4 1315.0,527.5C1319.9,530.8 1324.0,535.3 1327.5,540.0C1331.5,545.4 1334.8,551.3 1337.5,557.5C1340.7,564.7 1342.8,572.4 1345.0,580.0C1347.4,588.2 1349.3,596.6 1351.1,605.0C1352.1,610.0 1352.8,615.0 1353.5,620.0C1355.7,636.7 1358.1,653.3 1359.9,670.0C1362.3,690.8 1364.2,711.7 1366.1,732.5C1368.1,753.3 1369.6,774.2 1371.5,795.0C1373.0,811.7 1374.5,828.3 1376.1,845.0C1377.8,861.7 1379.5,878.3 1381.3,895.0C1382.9,910.0 1384.5,925.0 1386.3,940.0C1387.4,950.0 1388.1,960.1 1390.0,970.0C1390.7,973.5 1390.2,980.0 1393.8,980.0C1397.3,980.0 1396.9,973.5 1397.5,970.0C1399.3,960.1 1400.1,950.0 1401.1,940.0C1403.0,920.9 1404.7,901.7 1406.3,882.5C1407.7,865.8 1408.7,849.2 1409.8,832.5C1411.2,811.7 1412.2,790.8 1413.7,770.0C1415.3,749.1 1416.9,728.3 1419.1,707.5C1420.6,693.3 1422.6,679.1 1424.7,665.0C1426.4,653.3 1428.2,641.6 1430.7,630.0C1432.5,621.6 1434.9,613.2 1437.5,605.0C1440.1,596.6 1442.5,588.0 1446.2,580.0C1448.4,575.4 1451.4,571.1 1455.0,567.5C1458.2,564.3 1461.9,561.1 1466.2,560.0C1470.7,558.9 1475.4,561.7 1480.0,561.2C1483.9,560.9 1487.3,557.4 1491.2,557.5C1496.1,557.6 1500.2,561.5 1505.0,562.0C1508.7,562.4 1512.8,561.8 1516.0,560.0C1520.1,557.7 1522.5,553.2 1526.0,550.0C1528.4,547.8 1530.5,545.0 1533.5,543.8C1539.0,541.5 1545.1,540.9 1551.0,540.0C1559.3,538.8 1567.6,537.8 1576.0,537.5C1580.2,537.4 1584.3,539.0 1588.5,538.8C1594.4,538.4 1600.1,536.2 1606.0,535.5C1614.3,534.5 1622.7,533.5 1631.0,533.8C1637.8,534.0 1644.2,536.9 1651.0,537.0C1654.9,537.1 1658.4,534.5 1662.2,534.2C1668.5,533.8 1674.7,535.0 1681.0,535.0C1686.0,535.0 1691.0,534.3 1696.0,534.5C1701.0,534.7 1706.2,534.8 1711.0,536.2C1715.5,537.6 1719.6,539.9 1723.5,542.5C1727.2,545.0 1730.6,547.9 1733.5,551.2C1737.3,555.5 1740.4,560.2 1743.5,565.0C1747.1,570.7 1750.5,576.5 1753.5,582.5C1757.2,589.8 1760.5,597.3 1763.5,605.0C1766.3,612.4 1768.5,620.0 1770.9,627.5C1772.7,633.3 1774.4,639.2 1776.1,645.0C1778.6,653.3 1781.0,661.7 1783.4,670.0C1786.0,679.2 1788.5,688.3 1791.0,697.5C1793.6,706.7 1796.0,715.8 1798.5,725.0C1801.0,734.2 1803.5,743.3 1806.0,752.5C1808.5,761.7 1810.9,770.9 1813.5,780.0C1815.9,788.4 1818.3,796.7 1821.0,805.0C1823.4,812.6 1825.9,820.1 1828.7,827.5C1830.9,833.4 1833.5,839.2 1836.0,845.0C1838.5,850.8 1840.8,856.7 1843.5,862.5C1846.7,869.3 1849.9,876.0 1853.5,882.5C1856.6,888.1 1859.9,893.5 1863.5,898.8C1867.4,904.4 1871.5,909.8 1876.0,915.0C1879.9,919.4 1884.2,923.4 1888.5,927.5C1892.6,931.4 1896.9,934.9 1901.0,938.8C1904.4,942.0 1907.0,946.2 1911.0,948.8C1913.1,950.1 1916.2,948.9 1918.5,950.0C1923.0,952.3 1926.5,956.5 1931.0,958.8C1934.9,960.7 1939.2,961.9 1943.5,962.5C1947.6,963.1 1951.9,961.7 1956.0,962.5C1960.4,963.4 1964.3,965.9 1968.5,967.5C1971.8,968.8 1975.0,971.8 1978.5,971.2C1981.7,970.8 1984.5,967.9 1986.0,965.0C1988.4,960.4 1988.6,955.0 1989.8,950.0C1991.1,944.2 1991.5,938.1 1993.5,932.5C1994.1,930.8 1995.8,927.8 1997.2,928.8C1999.9,930.5 2000.3,934.4 2001.0,937.5C2002.4,943.2 2002.7,949.2 2003.5,955.0"/>
<path stroke-width="2.2" transform="translate(-2.6,2.6)" d="M228.8,550.0C236.7,544.6 244.2,538.5 252.5,533.8C258.0,530.6 264.3,529.1 270.0,526.4C273.0,525.0 275.7,523.0 278.5,521.3C281.3,519.6 284.0,517.6 286.9,516.2C289.0,515.2 291.2,514.4 293.5,513.9C296.0,513.4 298.5,513.3 301.0,513.3C303.8,513.3 306.8,513.3 309.5,514.1C312.9,515.1 316.0,517.1 319.1,518.8C322.0,520.3 325.0,521.8 327.5,523.8C330.1,525.9 332.0,528.6 334.3,531.0C336.8,533.7 339.5,536.3 341.9,539.1C344.3,541.8 346.7,544.5 348.7,547.5C350.7,550.4 352.3,553.6 353.8,556.8C355.2,559.8 356.2,563.0 357.3,566.1C358.5,569.5 359.6,572.9 360.6,576.3C361.8,580.0 362.8,583.6 363.9,587.3C364.9,591.0 365.8,594.6 366.7,598.3C367.6,601.7 368.5,605.0 369.2,608.4C370.0,612.2 370.8,616.1 371.4,620.0C372.8,630.0 374.2,640.0 375.4,650.0C377.4,666.6 379.3,683.3 381.0,700.0C382.7,716.7 384.3,733.3 385.8,750.0C387.3,766.7 388.7,783.3 390.0,800.0C391.4,816.7 392.7,833.3 394.0,850.0C395.3,866.7 396.5,883.3 397.8,900.0C399.2,916.7 400.5,933.3 402.0,950.0C403.5,966.7 405.1,983.3 406.8,1000.0C408.5,1016.7 410.2,1033.4 412.2,1050.0C414.2,1066.7 416.3,1083.4 418.8,1100.0C420.9,1114.2 423.1,1128.4 426.0,1142.5C428.7,1155.4 432.0,1168.3 435.5,1181.0C437.4,1187.5 439.8,1193.7 442.2,1200.0C444.5,1205.9 447.1,1211.7 449.5,1217.5C451.6,1222.5 453.5,1227.7 455.9,1232.6C458.0,1237.0 460.5,1241.2 463.0,1245.3C465.5,1249.4 468.1,1253.5 471.0,1257.3C473.4,1260.4 476.1,1263.4 479.0,1266.0C481.1,1267.9 483.5,1269.5 486.1,1270.8C488.4,1271.9 490.8,1273.0 493.3,1273.2C496.0,1273.4 498.7,1272.4 501.3,1271.8C503.7,1271.3 506.3,1271.2 508.4,1270.0C511.2,1268.4 513.4,1266.0 515.6,1263.7C518.2,1261.0 520.7,1258.0 522.8,1254.9C525.2,1251.3 527.2,1247.5 529.2,1243.7C531.2,1239.8 532.9,1235.8 534.7,1231.8C536.7,1227.3 538.7,1222.8 540.5,1218.2C542.4,1213.5 544.2,1208.7 546.0,1203.9C547.6,1199.4 549.2,1194.9 550.8,1190.4C551.9,1187.0 553.1,1183.5 554.1,1180.0C557.0,1170.0 559.6,1160.0 562.4,1150.0C564.0,1144.2 565.6,1138.3 567.3,1132.5C568.7,1127.7 570.2,1123.0 571.7,1118.2C573.5,1112.3 575.5,1106.5 577.4,1100.6C579.4,1094.3 581.3,1088.0 583.4,1081.8C585.3,1076.3 587.3,1070.9 589.2,1065.4C591.1,1059.9 593.3,1054.5 595.1,1049.0C597.1,1042.8 599.0,1036.6 600.7,1030.3C602.8,1022.5 604.6,1014.7 606.4,1006.9C608.2,999.1 610.0,991.3 611.7,983.4C613.3,975.6 614.8,967.8 616.3,960.0C617.0,956.7 617.7,953.3 618.3,950.0C621.3,933.3 624.4,916.7 627.2,900.0C630.0,883.4 632.5,866.7 635.1,850.0C637.6,833.3 640.1,816.7 642.6,800.0C645.1,783.3 647.6,766.7 650.2,750.0C652.9,733.3 655.5,716.6 658.4,700.0C661.3,683.3 664.5,666.6 667.7,650.0C671.0,633.3 674.3,616.6 677.8,600.0C681.3,583.3 684.8,566.6 688.7,550.0C692.7,533.3 697.0,516.6 701.5,500.0C704.9,487.4 708.4,474.8 712.5,462.5C716.2,451.5 719.6,440.3 725.0,430.0C728.0,424.2 733.0,419.7 737.5,415.0C741.4,410.9 744.5,404.9 750.0,403.8C754.2,402.9 757.9,412.7 761.2,410.0C766.7,405.7 764.7,396.4 767.5,390.0C769.3,385.9 771.7,381.8 775.0,378.8C778.1,375.9 782.0,372.8 786.2,373.0C790.3,373.2 792.5,381.6 796.2,380.0C800.9,378.1 799.3,370.1 802.5,366.2C805.0,363.3 808.8,361.6 812.5,360.8C817.4,359.7 822.6,360.0 827.5,360.8C835.1,361.9 842.7,363.7 850.0,366.2C858.6,369.3 866.8,373.4 875.0,377.5C883.5,381.8 891.7,386.7 900.0,391.2C908.3,395.8 916.8,400.3 925.0,405.0C933.4,409.8 941.7,415.0 950.0,420.0C958.3,425.0 966.6,430.2 975.0,435.0C983.2,439.7 991.8,443.9 1000.0,448.8C1008.5,453.9 1016.4,460.1 1025.0,465.0C1028.9,467.2 1033.8,467.5 1037.5,470.0C1046.4,475.9 1054.2,483.3 1062.5,490.0C1070.8,496.7 1079.2,503.3 1087.5,510.0C1091.7,513.3 1096.0,516.5 1100.0,520.0C1108.5,527.3 1116.5,535.2 1125.0,542.5C1133.1,549.4 1141.0,556.7 1150.0,562.5C1155.3,565.9 1161.4,568.1 1167.5,570.0C1172.3,571.5 1177.4,572.3 1182.5,572.5C1186.7,572.7 1191.0,572.4 1195.0,571.2C1201.1,569.5 1207.0,566.9 1212.5,563.8C1218.7,560.2 1224.3,555.6 1230.0,551.2C1236.8,546.0 1242.8,539.7 1250.0,535.0C1256.2,530.9 1263.1,527.7 1270.0,525.0C1274.8,523.1 1279.9,521.9 1285.0,521.2C1290.0,520.6 1295.1,520.2 1300.0,521.2C1305.3,522.4 1310.5,524.4 1315.0,527.5C1319.9,530.8 1324.0,535.3 1327.5,540.0C1331.5,545.4 1334.8,551.3 1337.5,557.5C1340.7,564.7 1342.8,572.4 1345.0,580.0C1347.4,588.2 1349.3,596.6 1351.1,605.0C1352.1,610.0 1352.8,615.0 1353.5,620.0C1355.7,636.7 1358.1,653.3 1359.9,670.0C1362.3,690.8 1364.2,711.7 1366.1,732.5C1368.1,753.3 1369.6,774.2 1371.5,795.0C1373.0,811.7 1374.5,828.3 1376.1,845.0C1377.8,861.7 1379.5,878.3 1381.3,895.0C1382.9,910.0 1384.5,925.0 1386.3,940.0C1387.4,950.0 1388.1,960.1 1390.0,970.0C1390.7,973.5 1390.2,980.0 1393.8,980.0C1397.3,980.0 1396.9,973.5 1397.5,970.0C1399.3,960.1 1400.1,950.0 1401.1,940.0C1403.0,920.9 1404.7,901.7 1406.3,882.5C1407.7,865.8 1408.7,849.2 1409.8,832.5C1411.2,811.7 1412.2,790.8 1413.7,770.0C1415.3,749.1 1416.9,728.3 1419.1,707.5C1420.6,693.3 1422.6,679.1 1424.7,665.0C1426.4,653.3 1428.2,641.6 1430.7,630.0C1432.5,621.6 1434.9,613.2 1437.5,605.0C1440.1,596.6 1442.5,588.0 1446.2,580.0C1448.4,575.4 1451.4,571.1 1455.0,567.5C1458.2,564.3 1461.9,561.1 1466.2,560.0C1470.7,558.9 1475.4,561.7 1480.0,561.2C1483.9,560.9 1487.3,557.4 1491.2,557.5C1496.1,557.6 1500.2,561.5 1505.0,562.0C1508.7,562.4 1512.8,561.8 1516.0,560.0C1520.1,557.7 1522.5,553.2 1526.0,550.0C1528.4,547.8 1530.5,545.0 1533.5,543.8C1539.0,541.5 1545.1,540.9 1551.0,540.0C1559.3,538.8 1567.6,537.8 1576.0,537.5C1580.2,537.4 1584.3,539.0 1588.5,538.8C1594.4,538.4 1600.1,536.2 1606.0,535.5C1614.3,534.5 1622.7,533.5 1631.0,533.8C1637.8,534.0 1644.2,536.9 1651.0,537.0C1654.9,537.1 1658.4,534.5 1662.2,534.2C1668.5,533.8 1674.7,535.0 1681.0,535.0C1686.0,535.0 1691.0,534.3 1696.0,534.5C1701.0,534.7 1706.2,534.8 1711.0,536.2C1715.5,537.6 1719.6,539.9 1723.5,542.5C1727.2,545.0 1730.6,547.9 1733.5,551.2C1737.3,555.5 1740.4,560.2 1743.5,565.0C1747.1,570.7 1750.5,576.5 1753.5,582.5C1757.2,589.8 1760.5,597.3 1763.5,605.0C1766.3,612.4 1768.5,620.0 1770.9,627.5C1772.7,633.3 1774.4,639.2 1776.1,645.0C1778.6,653.3 1781.0,661.7 1783.4,670.0C1786.0,679.2 1788.5,688.3 1791.0,697.5C1793.6,706.7 1796.0,715.8 1798.5,725.0C1801.0,734.2 1803.5,743.3 1806.0,752.5C1808.5,761.7 1810.9,770.9 1813.5,780.0C1815.9,788.4 1818.3,796.7 1821.0,805.0C1823.4,812.6 1825.9,820.1 1828.7,827.5C1830.9,833.4 1833.5,839.2 1836.0,845.0C1838.5,850.8 1840.8,856.7 1843.5,862.5C1846.7,869.3 1849.9,876.0 1853.5,882.5C1856.6,888.1 1859.9,893.5 1863.5,898.8C1867.4,904.4 1871.5,909.8 1876.0,915.0C1879.9,919.4 1884.2,923.4 1888.5,927.5C1892.6,931.4 1896.9,934.9 1901.0,938.8C1904.4,942.0 1907.0,946.2 1911.0,948.8C1913.1,950.1 1916.2,948.9 1918.5,950.0C1923.0,952.3 1926.5,956.5 1931.0,958.8C1934.9,960.7 1939.2,961.9 1943.5,962.5C1947.6,963.1 1951.9,961.7 1956.0,962.5C1960.4,963.4 1964.3,965.9 1968.5,967.5C1971.8,968.8 1975.0,971.8 1978.5,971.2C1981.7,970.8 1984.5,967.9 1986.0,965.0C1988.4,960.4 1988.6,955.0 1989.8,950.0C1991.1,944.2 1991.5,938.1 1993.5,932.5C1994.1,930.8 1995.8,927.8 1997.2,928.8C1999.9,930.5 2000.3,934.4 2001.0,937.5C2002.4,943.2 2002.7,949.2 2003.5,955.0"/>
<path stroke-width="2.2" transform="translate(2.6,2.6)" d="M228.8,550.0C236.7,544.6 244.2,538.5 252.5,533.8C258.0,530.6 264.3,529.1 270.0,526.4C273.0,525.0 275.7,523.0 278.5,521.3C281.3,519.6 284.0,517.6 286.9,516.2C289.0,515.2 291.2,514.4 293.5,513.9C296.0,513.4 298.5,513.3 301.0,513.3C303.8,513.3 306.8,513.3 309.5,514.1C312.9,515.1 316.0,517.1 319.1,518.8C322.0,520.3 325.0,521.8 327.5,523.8C330.1,525.9 332.0,528.6 334.3,531.0C336.8,533.7 339.5,536.3 341.9,539.1C344.3,541.8 346.7,544.5 348.7,547.5C350.7,550.4 352.3,553.6 353.8,556.8C355.2,559.8 356.2,563.0 357.3,566.1C358.5,569.5 359.6,572.9 360.6,576.3C361.8,580.0 362.8,583.6 363.9,587.3C364.9,591.0 365.8,594.6 366.7,598.3C367.6,601.7 368.5,605.0 369.2,608.4C370.0,612.2 370.8,616.1 371.4,620.0C372.8,630.0 374.2,640.0 375.4,650.0C377.4,666.6 379.3,683.3 381.0,700.0C382.7,716.7 384.3,733.3 385.8,750.0C387.3,766.7 388.7,783.3 390.0,800.0C391.4,816.7 392.7,833.3 394.0,850.0C395.3,866.7 396.5,883.3 397.8,900.0C399.2,916.7 400.5,933.3 402.0,950.0C403.5,966.7 405.1,983.3 406.8,1000.0C408.5,1016.7 410.2,1033.4 412.2,1050.0C414.2,1066.7 416.3,1083.4 418.8,1100.0C420.9,1114.2 423.1,1128.4 426.0,1142.5C428.7,1155.4 432.0,1168.3 435.5,1181.0C437.4,1187.5 439.8,1193.7 442.2,1200.0C444.5,1205.9 447.1,1211.7 449.5,1217.5C451.6,1222.5 453.5,1227.7 455.9,1232.6C458.0,1237.0 460.5,1241.2 463.0,1245.3C465.5,1249.4 468.1,1253.5 471.0,1257.3C473.4,1260.4 476.1,1263.4 479.0,1266.0C481.1,1267.9 483.5,1269.5 486.1,1270.8C488.4,1271.9 490.8,1273.0 493.3,1273.2C496.0,1273.4 498.7,1272.4 501.3,1271.8C503.7,1271.3 506.3,1271.2 508.4,1270.0C511.2,1268.4 513.4,1266.0 515.6,1263.7C518.2,1261.0 520.7,1258.0 522.8,1254.9C525.2,1251.3 527.2,1247.5 529.2,1243.7C531.2,1239.8 532.9,1235.8 534.7,1231.8C536.7,1227.3 538.7,1222.8 540.5,1218.2C542.4,1213.5 544.2,1208.7 546.0,1203.9C547.6,1199.4 549.2,1194.9 550.8,1190.4C551.9,1187.0 553.1,1183.5 554.1,1180.0C557.0,1170.0 559.6,1160.0 562.4,1150.0C564.0,1144.2 565.6,1138.3 567.3,1132.5C568.7,1127.7 570.2,1123.0 571.7,1118.2C573.5,1112.3 575.5,1106.5 577.4,1100.6C579.4,1094.3 581.3,1088.0 583.4,1081.8C585.3,1076.3 587.3,1070.9 589.2,1065.4C591.1,1059.9 593.3,1054.5 595.1,1049.0C597.1,1042.8 599.0,1036.6 600.7,1030.3C602.8,1022.5 604.6,1014.7 606.4,1006.9C608.2,999.1 610.0,991.3 611.7,983.4C613.3,975.6 614.8,967.8 616.3,960.0C617.0,956.7 617.7,953.3 618.3,950.0C621.3,933.3 624.4,916.7 627.2,900.0C630.0,883.4 632.5,866.7 635.1,850.0C637.6,833.3 640.1,816.7 642.6,800.0C645.1,783.3 647.6,766.7 650.2,750.0C652.9,733.3 655.5,716.6 658.4,700.0C661.3,683.3 664.5,666.6 667.7,650.0C671.0,633.3 674.3,616.6 677.8,600.0C681.3,583.3 684.8,566.6 688.7,550.0C692.7,533.3 697.0,516.6 701.5,500.0C704.9,487.4 708.4,474.8 712.5,462.5C716.2,451.5 719.6,440.3 725.0,430.0C728.0,424.2 733.0,419.7 737.5,415.0C741.4,410.9 744.5,404.9 750.0,403.8C754.2,402.9 757.9,412.7 761.2,410.0C766.7,405.7 764.7,396.4 767.5,390.0C769.3,385.9 771.7,381.8 775.0,378.8C778.1,375.9 782.0,372.8 786.2,373.0C790.3,373.2 792.5,381.6 796.2,380.0C800.9,378.1 799.3,370.1 802.5,366.2C805.0,363.3 808.8,361.6 812.5,360.8C817.4,359.7 822.6,360.0 827.5,360.8C835.1,361.9 842.7,363.7 850.0,366.2C858.6,369.3 866.8,373.4 875.0,377.5C883.5,381.8 891.7,386.7 900.0,391.2C908.3,395.8 916.8,400.3 925.0,405.0C933.4,409.8 941.7,415.0 950.0,420.0C958.3,425.0 966.6,430.2 975.0,435.0C983.2,439.7 991.8,443.9 1000.0,448.8C1008.5,453.9 1016.4,460.1 1025.0,465.0C1028.9,467.2 1033.8,467.5 1037.5,470.0C1046.4,475.9 1054.2,483.3 1062.5,490.0C1070.8,496.7 1079.2,503.3 1087.5,510.0C1091.7,513.3 1096.0,516.5 1100.0,520.0C1108.5,527.3 1116.5,535.2 1125.0,542.5C1133.1,549.4 1141.0,556.7 1150.0,562.5C1155.3,565.9 1161.4,568.1 1167.5,570.0C1172.3,571.5 1177.4,572.3 1182.5,572.5C1186.7,572.7 1191.0,572.4 1195.0,571.2C1201.1,569.5 1207.0,566.9 1212.5,563.8C1218.7,560.2 1224.3,555.6 1230.0,551.2C1236.8,546.0 1242.8,539.7 1250.0,535.0C1256.2,530.9 1263.1,527.7 1270.0,525.0C1274.8,523.1 1279.9,521.9 1285.0,521.2C1290.0,520.6 1295.1,520.2 1300.0,521.2C1305.3,522.4 1310.5,524.4 1315.0,527.5C1319.9,530.8 1324.0,535.3 1327.5,540.0C1331.5,545.4 1334.8,551.3 1337.5,557.5C1340.7,564.7 1342.8,572.4 1345.0,580.0C1347.4,588.2 1349.3,596.6 1351.1,605.0C1352.1,610.0 1352.8,615.0 1353.5,620.0C1355.7,636.7 1358.1,653.3 1359.9,670.0C1362.3,690.8 1364.2,711.7 1366.1,732.5C1368.1,753.3 1369.6,774.2 1371.5,795.0C1373.0,811.7 1374.5,828.3 1376.1,845.0C1377.8,861.7 1379.5,878.3 1381.3,895.0C1382.9,910.0 1384.5,925.0 1386.3,940.0C1387.4,950.0 1388.1,960.1 1390.0,970.0C1390.7,973.5 1390.2,980.0 1393.8,980.0C1397.3,980.0 1396.9,973.5 1397.5,970.0C1399.3,960.1 1400.1,950.0 1401.1,940.0C1403.0,920.9 1404.7,901.7 1406.3,882.5C1407.7,865.8 1408.7,849.2 1409.8,832.5C1411.2,811.7 1412.2,790.8 1413.7,770.0C1415.3,749.1 1416.9,728.3 1419.1,707.5C1420.6,693.3 1422.6,679.1 1424.7,665.0C1426.4,653.3 1428.2,641.6 1430.7,630.0C1432.5,621.6 1434.9,613.2 1437.5,605.0C1440.1,596.6 1442.5,588.0 1446.2,580.0C1448.4,575.4 1451.4,571.1 1455.0,567.5C1458.2,564.3 1461.9,561.1 1466.2,560.0C1470.7,558.9 1475.4,561.7 1480.0,561.2C1483.9,560.9 1487.3,557.4 1491.2,557.5C1496.1,557.6 1500.2,561.5 1505.0,562.0C1508.7,562.4 1512.8,561.8 1516.0,560.0C1520.1,557.7 1522.5,553.2 1526.0,550.0C1528.4,547.8 1530.5,545.0 1533.5,543.8C1539.0,541.5 1545.1,540.9 1551.0,540.0C1559.3,538.8 1567.6,537.8 1576.0,537.5C1580.2,537.4 1584.3,539.0 1588.5,538.8C1594.4,538.4 1600.1,536.2 1606.0,535.5C1614.3,534.5 1622.7,533.5 1631.0,533.8C1637.8,534.0 1644.2,536.9 1651.0,537.0C1654.9,537.1 1658.4,534.5 1662.2,534.2C1668.5,533.8 1674.7,535.0 1681.0,535.0C1686.0,535.0 1691.0,534.3 1696.0,534.5C1701.0,534.7 1706.2,534.8 1711.0,536.2C1715.5,537.6 1719.6,539.9 1723.5,542.5C1727.2,545.0 1730.6,547.9 1733.5,551.2C1737.3,555.5 1740.4,560.2 1743.5,565.0C1747.1,570.7 1750.5,576.5 1753.5,582.5C1757.2,589.8 1760.5,597.3 1763.5,605.0C1766.3,612.4 1768.5,620.0 1770.9,627.5C1772.7,633.3 1774.4,639.2 1776.1,645.0C1778.6,653.3 1781.0,661.7 1783.4,670.0C1786.0,679.2 1788.5,688.3 1791.0,697.5C1793.6,706.7 1796.0,715.8 1798.5,725.0C1801.0,734.2 1803.5,743.3 1806.0,752.5C1808.5,761.7 1810.9,770.9 1813.5,780.0C1815.9,788.4 1818.3,796.7 1821.0,805.0C1823.4,812.6 1825.9,820.1 1828.7,827.5C1830.9,833.4 1833.5,839.2 1836.0,845.0C1838.5,850.8 1840.8,856.7 1843.5,862.5C1846.7,869.3 1849.9,876.0 1853.5,882.5C1856.6,888.1 1859.9,893.5 1863.5,898.8C1867.4,904.4 1871.5,909.8 1876.0,915.0C1879.9,919.4 1884.2,923.4 1888.5,927.5C1892.6,931.4 1896.9,934.9 1901.0,938.8C1904.4,942.0 1907.0,946.2 1911.0,948.8C1913.1,950.1 1916.2,948.9 1918.5,950.0C1923.0,952.3 1926.5,956.5 1931.0,958.8C1934.9,960.7 1939.2,961.9 1943.5,962.5C1947.6,963.1 1951.9,961.7 1956.0,962.5C1960.4,963.4 1964.3,965.9 1968.5,967.5C1971.8,968.8 1975.0,971.8 1978.5,971.2C1981.7,970.8 1984.5,967.9 1986.0,965.0C1988.4,960.4 1988.6,955.0 1989.8,950.0C1991.1,944.2 1991.5,938.1 1993.5,932.5C1994.1,930.8 1995.8,927.8 1997.2,928.8C1999.9,930.5 2000.3,934.4 2001.0,937.5C2002.4,943.2 2002.7,949.2 2003.5,955.0"/>
</g>
<rect x="1438" y="39.6" width="541.4" height="246.4" fill="#fff" stroke="#000" stroke-width="1.6"/>
<line x1="1444.3" y1="81.4" x2="1588.8" y2="81.4" stroke="#000" stroke-width="7.6"/>
<line x1="1444.3" y1="164.8" x2="1588.8" y2="164.8" stroke="#f00" stroke-width="7.6"/>
<line x1="1444.3" y1="248.6" x2="1588.8" y2="248.6" stroke="#00f" stroke-width="7.6"/>
<text class="leg" transform="translate(1601.0,103.2) scale(1,1.04)">AgNPs</text>
<text class="leg" transform="translate(1601.0,185.3) scale(1,1.04)">DOX</text>
<text class="leg" transform="translate(1601.0,268.7) scale(1,1.04)">DOX/AgNPs</text>
</svg>
</body>
</html>
